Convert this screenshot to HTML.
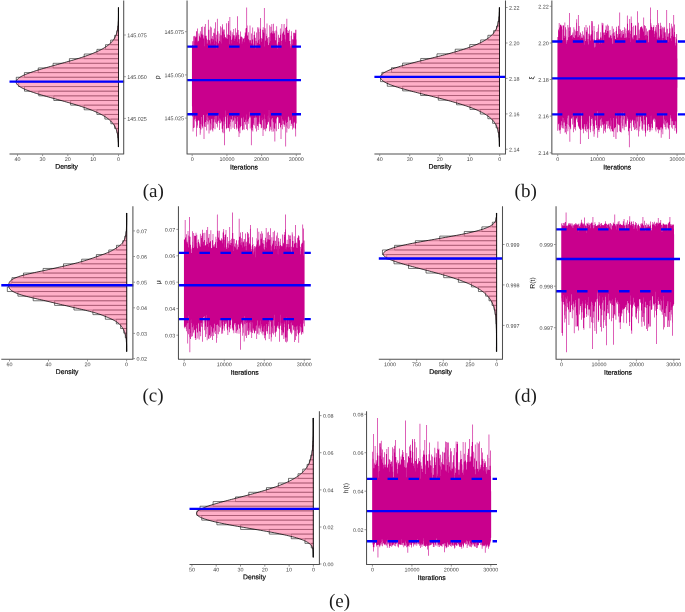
<!DOCTYPE html>
<html><head><meta charset="utf-8"><title>Posterior density and trace plots</title>
<style>html,body{margin:0;padding:0;background:#fff}svg{display:block}</style>
</head><body>
<svg width="685" height="612" viewBox="0 0 685 612" font-family='"Liberation Sans", sans-serif'>
<g>
<path d="M118.5 7.5H118.3V12.15H118.5ZM118.5 12.15H118.35V16.8H118.5ZM118.5 16.8H118.35V21.45H118.5ZM118.5 21.45H118.21V26.1H118.5ZM118.5 26.1H117.7V30.75H118.5ZM118.5 30.75H116.8V35.4H118.5ZM118.5 35.4H114.63V40.05H118.5ZM118.5 40.05H110.65V44.7H118.5ZM118.5 44.7H105.53V49.35H118.5ZM118.5 49.35H96.94V54H118.5ZM118.5 54H84.23V58.65H118.5ZM118.5 58.65H69.4V63.3H118.5ZM118.5 63.3H53.1V67.95H118.5ZM118.5 67.95H38.27V72.6H118.5ZM118.5 72.6H24.42V77.25H118.5ZM118.5 77.25H16.27V81.9H118.5ZM118.5 81.9H18.7V86.55H118.5ZM118.5 86.55H24.51V91.2H118.5ZM118.5 91.2H38.75V95.85H118.5ZM118.5 95.85H53.81V100.5H118.5ZM118.5 100.5H70.65V105.15H118.5ZM118.5 105.15H84.18V109.8H118.5ZM118.5 109.8H96.88V114.45H118.5ZM118.5 114.45H104.87V119.1H118.5ZM118.5 119.1H110.86V123.75H118.5ZM118.5 123.75H114.58V128.4H118.5ZM118.5 128.4H117V133.05H118.5ZM118.5 133.05H117.68V137.7H118.5ZM118.5 137.7H118.13V142.35H118.5ZM118.5 142.35H118.3V147H118.5Z" fill="#fff" stroke="#000" stroke-width="0.55"/>
<path d="M118.5 7.5L118.49 7.5L118.49 8L118.49 8.5L118.49 9L118.49 9.5L118.48 10L118.48 10.5L118.48 11L118.48 11.5L118.47 12L118.47 12.5L118.47 13L118.46 13.5L118.46 14L118.45 14.5L118.45 15L118.44 15.5L118.43 16L118.43 16.5L118.42 17L118.41 17.5L118.4 18L118.39 18.5L118.37 19L118.36 19.5L118.35 20L118.33 20.5L118.31 21L118.29 21.5L118.27 22L118.24 22.5L118.21 23L118.18 23.5L118.15 24L118.12 24.5L118.08 25L118.04 25.5L117.99 26L117.94 26.5L117.88 27L117.82 27.5L117.76 28L117.69 28.5L117.61 29L117.53 29.5L117.44 30L117.34 30.5L117.24 31L117.12 31.5L117 32L116.87 32.5L116.73 33L116.58 33.5L116.41 34L116.24 34.5L116.05 35L115.85 35.5L115.63 36L115.4 36.5L115.16 37L114.9 37.5L114.62 38L114.32 38.5L114 39L113.66 39.5L113.31 40L112.93 40.5L112.52 41L112.1 41.5L111.65 42L111.17 42.5L110.67 43L110.14 43.5L109.58 44L108.99 44.5L108.37 45L107.72 45.5L107.04 46L106.33 46.5L105.58 47L104.8 47.5L103.98 48L103.13 48.5L102.24 49L101.32 49.5L100.36 50L99.36 50.5L98.32 51L97.24 51.5L96.13 52L94.97 52.5L93.78 53L92.55 53.5L91.28 54L89.97 54.5L88.63 55L87.25 55.5L85.83 56L84.38 56.5L82.89 57L81.37 57.5L79.81 58L78.23 58.5L76.62 59L74.97 59.5L73.31 60L71.61 60.5L69.9 61L68.17 61.5L66.41 62L64.64 62.5L62.86 63L61.07 63.5L59.27 64L57.47 64.5L55.66 65L53.86 65.5L52.06 66L50.27 66.5L48.49 67L46.72 67.5L44.97 68L43.24 68.5L41.54 69L39.86 69.5L38.21 70L36.6 70.5L35.03 71L33.5 71.5L32.02 72L30.58 72.5L29.19 73L27.86 73.5L26.59 74L25.38 74.5L24.23 75L23.15 75.5L22.14 76L21.2 76.5L20.33 77L19.54 77.5L18.82 78L18.19 78.5L17.64 79L17.17 79.5L16.78 80L16.48 80.5L16.26 81L16.14 81.5L16.09 82L16.14 82.5L16.26 83L16.48 83.5L16.78 84L17.17 84.5L17.64 85L18.19 85.5L18.82 86L19.54 86.5L20.33 87L21.2 87.5L22.14 88L23.15 88.5L24.23 89L25.38 89.5L26.59 90L27.86 90.5L29.19 91L30.58 91.5L32.02 92L33.5 92.5L35.03 93L36.6 93.5L38.21 94L39.86 94.5L41.54 95L43.24 95.5L44.97 96L46.72 96.5L48.49 97L50.27 97.5L52.06 98L53.86 98.5L55.66 99L57.47 99.5L59.27 100L61.07 100.5L62.86 101L64.64 101.5L66.41 102L68.17 102.5L69.9 103L71.61 103.5L73.31 104L74.97 104.5L76.62 105L78.23 105.5L79.81 106L81.37 106.5L82.89 107L84.38 107.5L85.83 108L87.25 108.5L88.63 109L89.97 109.5L91.28 110L92.55 110.5L93.78 111L94.97 111.5L96.13 112L97.24 112.5L98.32 113L99.36 113.5L100.36 114L101.32 114.5L102.24 115L103.13 115.5L103.98 116L104.8 116.5L105.58 117L106.33 117.5L107.04 118L107.72 118.5L108.37 119L108.99 119.5L109.58 120L110.14 120.5L110.67 121L111.17 121.5L111.65 122L112.1 122.5L112.52 123L112.93 123.5L113.31 124L113.66 124.5L114 125L114.32 125.5L114.62 126L114.9 126.5L115.16 127L115.4 127.5L115.63 128L115.85 128.5L116.05 129L116.24 129.5L116.41 130L116.58 130.5L116.73 131L116.87 131.5L117 132L117.12 132.5L117.24 133L117.34 133.5L117.44 134L117.53 134.5L117.61 135L117.69 135.5L117.76 136L117.82 136.5L117.88 137L117.94 137.5L117.99 138L118.04 138.5L118.08 139L118.12 139.5L118.15 140L118.18 140.5L118.21 141L118.24 141.5L118.27 142L118.29 142.5L118.31 143L118.33 143.5L118.35 144L118.36 144.5L118.37 145L118.39 145.5L118.4 146L118.41 146.5L118.42 147L118.5 147Z" fill="rgb(255,122,163)" fill-opacity="0.6" stroke="#000" stroke-width="0.75" stroke-linejoin="round"/>
<path d="M9.5 81.6H124.1" stroke="#0000ff" stroke-width="2.35" fill="none"/>
<path d="M123.7 0.5V154H9.5" stroke="#505050" stroke-width="1.05" stroke-linejoin="round" fill="none"/>
<path d="M124.2 35h1.6M124.2 76.7h1.6M124.2 118.4h1.6M17.5 154.5v1.6M42.6 154.5v1.6M67.8 154.5v1.6M93.3 154.5v1.6M118.5 154.5v1.6" stroke="#333" stroke-width="0.5" fill="none"/>
<g font-size="5.4" fill="#444">
<text transform="translate(127.3 37.25) rotate(0.05)">145.075</text>
<text transform="translate(127.3 78.95) rotate(0.05)">145.050</text>
<text transform="translate(127.3 120.65) rotate(0.05)">145.025</text>
<text transform="translate(17.5 161) rotate(0.05)" text-anchor="middle">40</text>
<text transform="translate(42.6 161) rotate(0.05)" text-anchor="middle">30</text>
<text transform="translate(67.8 161) rotate(0.05)" text-anchor="middle">20</text>
<text transform="translate(93.3 161) rotate(0.05)" text-anchor="middle">10</text>
<text transform="translate(118.5 161) rotate(0.05)" text-anchor="middle">0</text>
</g>
<text transform="translate(66.6 168.75) rotate(0.05)" text-anchor="middle" font-size="6.8" fill="#000" stroke="#000" stroke-width="0.18">Density</text>
</g>
<g>
<path d="M191.95 80.05V45.49H192.2V41.29H192.82V45.07H193.07V41.07H193.2V36.26H193.82V47.08H193.95V46.23H194.07V41.4H194.2V36.34H194.7V35.67H195.32V37.13H195.45V37.92H195.57V36.75H196.2V31.32H196.57V31.24H197.07V28.5H197.7V42.27H197.82V40.69H198.45V41.34H198.7V33.4H199.32V37.09H199.45V35.71H199.95V31.24H200.57V37.21H200.82V38.36H200.95V35.02H201.07V26.89H201.7V33.8H202.2V35.21H202.45V26.54H203.07V34.82H203.45V36.74H203.57V38.59H204.07V46.25H204.2V26.87H204.82V35.77H204.95V23.9H205.57V35.71H205.95V35.72H206.57V38.6H206.95V43.85H207.2V42.41H207.32V39.67H207.95V19.82H208.57V39.38H208.7V29.68H209.32V40.33H209.95V26.39H210.57V39.47H210.7V44.24H210.82V42.87H210.95V27.39H211.57V38.54H211.95V39.09H212.2V35.99H212.82V41.72H212.95V38.95H213.2V32.77H213.82V40.26H213.95V28.57H214.57V44.32H214.7V33.35H215.07V22.13H215.7V41.09H215.82V37.61H215.95V34.66H216.57V41.72H216.82V48.44H216.95V18.8H217.57V38.65H217.7V31.36H218.32V42.55H218.45V43.75H218.57V43.18H218.82V33.58H219.45V36.46H219.57V41.08H219.82V40.63H219.95V34.81H220.07V26.15H220.7V41.73H220.82V35.29H221.45V43.39H221.57V27.41H222.07V26.43H222.2V24.32H222.82V31.43H223.2V29.53H223.82V38.2H223.95V29.52H224.57V34.62H224.95V37.32H225.07V37.04H225.7V38.21H226.07V23.13H226.7V38.19H227.07V34.62H227.7V39.07H227.95V23.22H228.2V21.1H228.82V34.54H228.95V34.95H229.45V43.9H229.57V17.1H230.2V36.33H230.45V30.81H230.57V30.51H231.2V38.89H231.32V40.05H231.7V43.56H231.82V32.19H232.45V34.18H232.7V37.3H232.82V38.75H232.95V35.34H233.45V29.07H234.07V35.23H234.57V35.53H234.7V41.11H234.82V38.67H235.2V28.19H235.82V36.79H236.07V35.22H236.45V32.38H237.07V16.3H237.7V41.86H237.82V29.88H238.45V38.92H238.57V34.77H239.2V43.45H239.45V39.2H240.07V31.5H240.7V37.21H240.82V36.42H241.45V36.85H241.95V43.79H242.07V37.45H242.7V41.42H242.95V38.69H243.57V38.99H243.7V37.91H244.32V42.17H244.45V36.55H244.57V36.17H244.82V32.6H245.45V34.5H245.57V28.52H245.95V28H246.45V7.5H247.07V25.55H247.45V35.49H248.07V39.17H248.45V32.16H249.07V40.21H249.57V42.48H249.7V25.61H250.32V40.29H250.95V43.44H251.32V33.48H251.95V39.39H252.45V27.46H253.07V46.1H253.32V43.83H253.57V38.45H253.7V35.1H254.2V34.87H254.32V31.56H254.95V37.81H255.57V48.21H255.82V40.96H256.2V32.48H256.82V47.29H256.95V45.58H257.07V42.72H257.45V27.15H258.07V40.17H258.32V29.16H258.57V27.39H259.2V32.08H259.45V38.66H259.57V39.27H259.7V43.91H259.95V28.86H260.32V18H260.95V36.32H261.07V38.28H261.7V41.65H261.95V29.8H262.57V38.84H262.82V27.2H263.45V32.46H263.7V30.09H263.95V8H264.57V46.59H264.7V33.27H264.82V28.18H265.45V29.77H265.57V39.85H265.7V40.97H265.95V40.04H266.07V36.05H266.45V33.84H266.7V23.58H267.32V42.26H267.45V38.13H268.07V45.27H268.2V44.91H268.57V37.07H269.2V42.49H269.32V43.22H269.45V25.13H270.07V33.25H270.45V41.02H270.57V26.66H271.2V32.42H271.57V23.9H272.2V30.82H272.57V33.45H273.2V23.78H273.82V31.33H274.45V33.37H274.95V37.33H275.07V40.17H275.57V30.49H276.2V44.82H276.32V37.65H276.45V26.23H277.07V31.79H277.2V43.62H277.45V44.49H277.57V48.88H277.7V45.95H277.95V35.74H278.07V34.81H278.7V42.03H278.95V37.66H279.2V37.65H279.82V42.14H279.95V28.56H280.57V32.51H280.7V34.78H281.07V41.01H281.45V45.52H281.57V23.9H282.2V33.6H282.7V39.98H282.82V32.61H283.07V31.44H283.57V29.45H283.7V24.59H283.82V24.07H284.45V34.86H284.95V39.58H285.2V27.97H285.82V41.64H285.95V26.8H286.57V18.8H287.2V29.91H287.57V33.1H287.82V33.08H288.45V30.99H288.95V29.73H289.57V41.12H290.2V43.93H290.45V46.48H290.57V48.33H290.7V45.41H290.82V35.74H291.2V31.18H291.82V45.49H292.07V43.89H292.2V39.37H292.82V39.43H293.32V32.64H293.95V32.79H294.57V36.25H294.7V33.3H295.32V29.74H295.95V29.84H296.32V39.47H296.57V123.44H296.07V136.41H295.45V129.29H295.2V128.14H294.7V121.83H294.45V122.73H293.82V128.14H293.2V126.88H293.07V125.53H292.82V129.52H292.2V116.81H292.07V123.63H291.7V123.68H291.32V125.99H290.7V119.43H290.57V120.34H289.95V120.11H289.82V117.76H289.7V120.62H289.57V120.88H289.45V128.04H289.2V128.93H288.57V116.62H288.2V117.21H287.95V121.96H287.57V128.18H287.2V132.53H286.57V126.49H286.32V123.04H286.07V146.5H285.45V122.22H285.32V119.75H285.2V121.15H285.07V124.8H284.45V126.63H283.82V124.2H283.32V120.74H282.82V119.37H282.7V124.25H282.57V129.31H281.95V124.88H281.45V116.41H281.32V139.07H280.7V128.35H280.57V127.27H280.07V122.84H279.82V123.06H279.2V124.2H278.95V129.04H278.32V117.76H278.07V116.66H277.82V117.35H277.2V116.59H277.07V118.52H276.57V131.27H275.95V130.26H275.82V128.69H275.7V123.46H275.32V122.54H275.2V141.5H274.57V128.56H274.32V128.82H274.07V131.58H273.45V127.83H273.32V122.33H272.95V118.19H272.7V118.11H272.57V121.3H272.45V128.97H272.32V131.84H271.7V119.97H271.57V118.77H271.32V130.33H270.7V126.69H270.2V128.71H269.95V131.25H269.32V124.5H269.2V117.8H269.07V109.88H268.95V121.6H268.7V122.33H268.07V115.41H267.95V121.97H267.82V124.07H267.45V124.9H266.95V127.84H266.82V127.93H266.7V128.58H266.07V131.25H265.45V119.01H265.32V122.48H265.2V129.01H264.57V118.53H264.45V114.44H264.32V129.92H263.7V128.19H263.45V118.89H263.32V136H262.7V127.62H262.57V120.19H262.07V117.39H261.95V125.07H261.82V127.78H261.45V128.33H260.82V124.18H260.57V124.31H259.95V122.05H259.82V115.21H259.57V117.74H259.45V123.77H258.82V121.87H258.7V127.26H258.45V129.94H257.82V124.6H257.7V126H257.07V124.15H256.95V131.44H256.32V117.47H255.7V113.84H255.57V128.44H254.95V125.51H254.45V117.8H253.95V124.68H253.32V123.05H253.2V131.39H252.57V127.67H252.32V130.19H251.7V127.14H251.57V145.3H250.95V117.44H250.57V116.26H250.45V128.53H249.82V111.67H249.7V116.52H249.45V117.73H249.07V123.69H248.45V119.3H248.07V120.98H247.82V130.3H247.2V122.04H246.82V128.92H246.2V114.47H246.07V119.52H245.95V124.45H245.32V119.83H245.07V121.92H244.45V129.86H243.82V125.75H243.7V117.81H243.57V116.81H243.45V129.21H242.82V130.21H242.2V129.89H242.07V118.5H241.82V117.64H241.45V126.05H240.82V127.18H240.32V133.34H239.7V124.82H239.57V128.37H239.32V137H238.7V131.53H238.32V130.82H238.07V128.43H237.57V121.93H237.45V117.02H237.2V120.78H236.95V127.55H236.57V129.42H235.95V118.04H235.82V118.74H235.7V123.96H235.07V115.19H234.95V117.54H234.7V129.08H234.07V119.7H233.95V120.54H233.45V121.31H233.32V127.85H232.7V121.8H232.32V116.11H232.07V119.29H231.82V119.62H231.32V129.16H230.7V126.45H230.45V121.9H230.2V118.94H230.07V117.17H229.95V131.59H229.32V124.34H229.07V128.3H228.45V127.69H227.82V117.86H227.7V115.37H227.45V127.99H226.82V128H226.57V129.22H225.95V116.75H225.82V116.63H225.45V110.6H225.32V119.55H225.2V124.06H224.95V145.3H224.32V132.71H224.2V121.46H223.82V117.59H223.7V125.5H223.57V125.9H223.45V133.16H222.82V132.22H222.32V128.66H221.7V121.37H221.57V121.38H221.2V122.4H220.95V123.21H220.32V119.85H220.07V118.57H219.82V129.89H219.2V122.92H218.82V120.68H218.2V114H218.07V121.79H217.7V125.64H217.57V127.6H216.95V122.67H216.82V123.98H216.2V116.02H215.82V122.39H215.32V129.29H214.7V120.4H214.57V116.57H214.45V119.32H214.2V122.16H213.82V128.29H213.2V131.38H212.57V130.17H212.2V118.65H211.7V118.96H211.57V124.86H211.45V129.54H210.82V123.39H210.57V130.45H209.95V119.84H209.7V120.33H209.57V120.83H209.45V130.18H209.32V133.59H208.7V123.59H208.57V121.79H208.45V117.72H208.32V121.85H208.2V124.52H207.57V120.92H207.32V117.18H207.2V114.05H207.07V130.38H206.45V120.36H206.2V114.85H206.07V121.99H205.57V126.99H204.95V126.85H204.82V126.44H204.45V123.39H204.32V139H203.7V114.64H203.57V115.12H203.2V123.59H203.07V128.16H202.45V126.46H201.82V124.58H201.57V116.96H201.32V129.45H200.7V124.04H200.57V133.01H200.45V134.63H199.82V128.1H199.2V120.68H198.82V119.9H198.45V120.8H197.82V125.57H197.45V127.72H196.82V136.5H196.2V122.17H196.07V121.27H195.57V118.76H195.2V116.6H194.95V119.62H194.57V127.38H194.07V128.12H193.45V113.38H193.32V131.46H192.7V116.51H192.2V114.91H192.07V106.51H191.95Z" fill="#c9008d"/>
<path d="M187.05 80.05H301" stroke="#0000ff" stroke-width="2.35" fill="none"/>
<path d="M187.05 46.6H301" stroke="#0000ff" stroke-width="2.35" stroke-dasharray="10.5 10.5" fill="none"/>
<path d="M187.05 114.2H301" stroke="#0000ff" stroke-width="2.35" stroke-dasharray="10.5 10.5" fill="none"/>
<path d="M187.05 0.5V154H301" stroke="#505050" stroke-width="1.05" stroke-linejoin="round" fill="none"/>
<path d="M186.55 31.7h-1.6M186.55 74.9h-1.6M186.55 118.1h-1.6M192.2 154.5v1.6M226.9 154.5v1.6M261.6 154.5v1.6M296.3 154.5v1.6" stroke="#333" stroke-width="0.5" fill="none"/>
<g font-size="5.4" fill="#444">
<text transform="translate(183.95 33.95) rotate(0.05)" text-anchor="end">145.075</text>
<text transform="translate(183.95 77.15) rotate(0.05)" text-anchor="end">145.050</text>
<text transform="translate(183.95 120.35) rotate(0.05)" text-anchor="end">145.025</text>
<text transform="translate(192.2 161) rotate(0.05)" text-anchor="middle">0</text>
<text transform="translate(226.9 161) rotate(0.05)" text-anchor="middle">10000</text>
<text transform="translate(261.6 161) rotate(0.05)" text-anchor="middle">20000</text>
<text transform="translate(296.3 161) rotate(0.05)" text-anchor="middle">30000</text>
</g>
<text transform="translate(244.03 169.5) rotate(0.05)" text-anchor="middle" font-size="6.8" fill="#000" stroke="#000" stroke-width="0.18">Iterations</text>
<text transform="translate(159.6 77.4) rotate(-89.95)" text-anchor="middle" font-size="6.8" fill="#000">ρ</text>
</g>
<g>
<path d="M499.5 7.5H499.26V12.13H499.5ZM499.5 12.13H499.16V16.77H499.5ZM499.5 16.77H498.73V21.4H499.5ZM499.5 21.4H497.87V26.03H499.5ZM499.5 26.03H496.52V30.67H499.5ZM499.5 30.67H493.59V35.3H499.5ZM499.5 35.3H487.89V39.93H499.5ZM499.5 39.93H480.65V44.57H499.5ZM499.5 44.57H469.73V49.2H499.5ZM499.5 49.2H455.23V53.83H499.5ZM499.5 53.83H436.99V58.47H499.5ZM499.5 58.47H420.69V63.1H499.5ZM499.5 63.1H402.61V67.73H499.5ZM499.5 67.73H391.48V72.37H499.5ZM499.5 72.37H381.87V77H499.5ZM499.5 77H380.55V81.63H499.5ZM499.5 81.63H387.31V86.27H499.5ZM499.5 86.27H402.65V90.9H499.5ZM499.5 90.9H420.62V95.53H499.5ZM499.5 95.53H438.29V100.17H499.5ZM499.5 100.17H456.57V104.8H499.5ZM499.5 104.8H469.95V109.43H499.5ZM499.5 109.43H480.34V114.07H499.5ZM499.5 114.07H487.85V118.7H499.5ZM499.5 118.7H492.63V123.33H499.5ZM499.5 123.33H496.13V127.97H499.5ZM499.5 127.97H498V132.6H499.5ZM499.5 132.6H498.72V137.23H499.5ZM499.5 137.23H499.2V141.87H499.5ZM499.5 141.87H499.26V146.5H499.5Z" fill="#fff" stroke="#000" stroke-width="0.55"/>
<path d="M499.5 7.5L499.43 7.5L499.43 8L499.42 8.5L499.41 8.99L499.4 9.49L499.39 9.99L499.38 10.49L499.36 10.99L499.35 11.49L499.33 11.98L499.31 12.48L499.29 12.98L499.27 13.48L499.25 13.98L499.23 14.47L499.2 14.97L499.17 15.47L499.13 15.97L499.1 16.47L499.06 16.97L499.02 17.46L498.97 17.96L498.92 18.46L498.87 18.96L498.81 19.46L498.74 19.96L498.67 20.45L498.6 20.95L498.52 21.45L498.43 21.95L498.33 22.45L498.23 22.94L498.12 23.44L498 23.94L497.88 24.44L497.74 24.94L497.59 25.44L497.44 25.93L497.27 26.43L497.09 26.93L496.9 27.43L496.69 27.93L496.47 28.42L496.24 28.92L495.98 29.42L495.72 29.92L495.43 30.42L495.13 30.92L494.81 31.41L494.47 31.91L494.11 32.41L493.73 32.91L493.33 33.41L492.9 33.91L492.45 34.4L491.97 34.9L491.47 35.4L490.94 35.9L490.38 36.4L489.79 36.89L489.18 37.39L488.53 37.89L487.85 38.39L487.14 38.89L486.39 39.39L485.61 39.88L484.8 40.38L483.95 40.88L483.06 41.38L482.14 41.88L481.17 42.37L480.17 42.87L479.13 43.37L478.05 43.87L476.93 44.37L475.78 44.87L474.58 45.36L473.33 45.86L472.05 46.36L470.73 46.86L469.37 47.36L467.97 47.85L466.52 48.35L465.04 48.85L463.52 49.35L461.96 49.85L460.36 50.35L458.73 50.84L457.06 51.34L455.35 51.84L453.62 52.34L451.85 52.84L450.05 53.34L448.22 53.83L446.36 54.33L444.48 54.83L442.58 55.33L440.65 55.83L438.71 56.32L436.75 56.82L434.78 57.32L432.79 57.82L430.8 58.32L428.81 58.82L426.81 59.31L424.81 59.81L422.81 60.31L420.83 60.81L418.85 61.31L416.88 61.8L414.94 62.3L413.01 62.8L411.11 63.3L409.23 63.8L407.39 64.3L405.58 64.79L403.81 65.29L402.08 65.79L400.39 66.29L398.75 66.79L397.16 67.28L395.63 67.78L394.16 68.28L392.74 68.78L391.39 69.28L390.11 69.78L388.9 70.27L387.76 70.77L386.69 71.27L385.7 71.77L384.79 72.27L383.96 72.77L383.21 73.26L382.55 73.76L381.98 74.26L381.49 74.76L381.09 75.26L380.78 75.75L380.56 76.25L380.44 76.75L380.4 77.25L380.46 77.75L380.6 78.25L380.84 78.74L381.16 79.24L381.58 79.74L382.08 80.24L382.68 80.74L383.35 81.23L384.12 81.73L384.96 82.23L385.89 82.73L386.89 83.23L387.98 83.73L389.13 84.22L390.36 84.72L391.66 85.22L393.02 85.72L394.44 86.22L395.93 86.72L397.47 87.21L399.07 87.71L400.72 88.21L402.41 88.71L404.15 89.21L405.93 89.7L407.75 90.2L409.6 90.7L411.48 91.2L413.39 91.7L415.32 92.2L417.27 92.69L419.24 93.19L421.22 93.69L423.21 94.19L425.2 94.69L427.2 95.18L429.2 95.68L431.2 96.18L433.19 96.68L435.17 97.18L437.14 97.68L439.09 98.17L441.03 98.67L442.95 99.17L444.85 99.67L446.73 100.17L448.58 100.66L450.4 101.16L452.2 101.66L453.96 102.16L455.69 102.66L457.39 103.16L459.05 103.65L460.68 104.15L462.27 104.65L463.82 105.15L465.34 105.65L466.81 106.15L468.25 106.64L469.64 107.14L471 107.64L472.31 108.14L473.58 108.64L474.82 109.13L476.01 109.63L477.16 110.13L478.27 110.63L479.34 111.13L480.37 111.63L481.37 112.12L482.32 112.62L483.24 113.12L484.12 113.62L484.96 114.12L485.77 114.61L486.54 115.11L487.28 115.61L487.99 116.11L488.66 116.61L489.3 117.11L489.91 117.6L490.49 118.1L491.04 118.6L491.57 119.1L492.07 119.6L492.54 120.09L492.98 120.59L493.41 121.09L493.81 121.59L494.19 122.09L494.54 122.59L494.88 123.08L495.19 123.58L495.49 124.08L495.77 124.58L496.04 125.08L496.28 125.58L496.51 126.07L496.73 126.57L496.93 127.07L497.13 127.57L497.3 128.07L497.47 128.56L497.62 129.06L497.77 129.56L497.9 130.06L498.03 130.56L498.14 131.06L498.25 131.55L498.35 132.05L498.45 132.55L498.53 133.05L498.61 133.55L498.69 134.04L498.76 134.54L498.82 135.04L498.88 135.54L498.93 136.04L498.98 136.54L499.03 137.03L499.07 137.53L499.11 138.03L499.14 138.53L499.17 139.03L499.2 139.53L499.23 140.02L499.26 140.52L499.28 141.02L499.3 141.52L499.32 142.02L499.34 142.51L499.35 143.01L499.37 143.51L499.38 144.01L499.39 144.51L499.4 145.01L499.41 145.5L499.42 146L499.43 146.5L499.5 146.5Z" fill="rgb(255,122,163)" fill-opacity="0.6" stroke="#000" stroke-width="0.75" stroke-linejoin="round"/>
<path d="M374.4 76.9H505.9" stroke="#0000ff" stroke-width="2.35" fill="none"/>
<path d="M505.5 0.5V154H374.4" stroke="#505050" stroke-width="1.05" stroke-linejoin="round" fill="none"/>
<path d="M506 7.5h1.6M506 43h1.6M506 78.4h1.6M506 113.9h1.6M506 149.2h1.6M379.7 154.5v1.6M409.7 154.5v1.6M439.7 154.5v1.6M469.7 154.5v1.6M499.7 154.5v1.6" stroke="#333" stroke-width="0.5" fill="none"/>
<g font-size="5.4" fill="#444">
<text transform="translate(509.1 9.75) rotate(0.05)">2.22</text>
<text transform="translate(509.1 45.25) rotate(0.05)">2.20</text>
<text transform="translate(509.1 80.65) rotate(0.05)">2.18</text>
<text transform="translate(509.1 116.15) rotate(0.05)">2.16</text>
<text transform="translate(509.1 151.45) rotate(0.05)">2.14</text>
<text transform="translate(379.7 161) rotate(0.05)" text-anchor="middle">40</text>
<text transform="translate(409.7 161) rotate(0.05)" text-anchor="middle">30</text>
<text transform="translate(439.7 161) rotate(0.05)" text-anchor="middle">20</text>
<text transform="translate(469.7 161) rotate(0.05)" text-anchor="middle">10</text>
<text transform="translate(499.7 161) rotate(0.05)" text-anchor="middle">0</text>
</g>
<text transform="translate(439.95 168.75) rotate(0.05)" text-anchor="middle" font-size="6.8" fill="#000" stroke="#000" stroke-width="0.18">Density</text>
</g>
<g>
<path d="M557.45 78.4V37.31H557.58V37.01H558.08V29.42H558.7V30.75H558.83V23.12H559.45V27.62H559.83V31.45H559.95V24.69H560.58V24.74H561.2V26.58H561.58V25.44H562.2V40.3H562.58V29.49H562.83V25.28H563.45V25.41H563.95V38.11H564.2V35.86H564.58V22.38H565.2V36.83H565.33V27.25H565.95V29.51H566.33V36.22H566.45V41.46H566.58V43.74H566.83V40.11H567.45V41.4H567.58V25.01H568.2V27.61H568.7V37.31H569.08V30.93H569.2V13H569.83V27.29H570.08V27.15H570.7V35.91H571.08V34.96H571.7V35.21H572.2V38.71H572.33V34.35H572.58V32.38H573.2V37.24H573.58V27.33H574.2V37.96H574.58V29.4H575.2V35.37H575.58V31.24H576.2V22.68H576.45V19.28H577.08V36.7H577.2V31.05H577.83V37.42H577.95V15H578.58V36.96H578.83V26.1H579.45V35.18H579.95V37.96H580.08V39.04H580.2V32.84H580.33V32.61H580.95V34H581.33V36.42H581.7V38.03H582.2V38.23H582.33V36.98H582.45V31.26H583.08V35.78H583.2V40.8H583.33V34.72H583.95V36.26H584.08V36.43H584.2V44.75H584.33V27.14H584.95V38.63H585.2V40.89H585.58V30.34H585.7V24.89H586.33V30.37H586.7V32.09H587.08V41.42H587.2V27.57H587.83V38.92H588.2V44.4H588.45V33.78H589.08V34.07H589.2V25.46H589.83V35.49H590.45V40.5H590.7V34.23H591.33V20.91H591.95V23.22H592.08V21.26H592.7V30.53H592.95V39.4H593.45V41.11H593.58V40.57H593.7V26.01H594.33V31.04H594.58V39.03H594.7V47.58H594.95V46.75H595.2V42.07H595.58V40.31H595.95V39.79H596.33V31.98H596.95V38.33H597.2V42.16H597.33V31.48H597.83V28.62H597.95V27.39H598.08V24.54H598.7V39.31H599.33V39.32H599.83V44.06H599.95V37.51H600.45V32.36H601.08V36.43H601.33V38.22H601.58V43.82H601.7V22.81H602.33V25.21H602.7V23.26H603.33V32.8H603.7V39.89H603.83V32.32H604.45V32.78H604.7V34.89H605.08V29.85H605.7V25.53H606.33V26.55H606.58V32.98H606.95V24.61H607.58V31.03H607.95V31.29H608.2V25.7H608.83V37.46H609.08V37.48H609.58V31.08H609.7V30.05H610.33V35.87H610.45V35.3H611.08V35.82H611.33V38.33H611.7V33.88H611.83V26.19H612.45V33.6H612.7V43.85H613.08V32.63H613.33V28.71H613.95V35.67H614.45V32.19H615.08V39H615.7V31.12H616.2V26.83H616.83V29.19H616.95V34.05H617.58V37.54H618.08V35.59H618.2V26.37H618.33V25.64H618.95V28.94H619.2V34.05H619.45V12.6H620.08V33.15H620.2V29.53H620.83V37.57H621.33V30.98H621.95V33.61H622.08V35.47H622.33V30.18H622.95V34.1H623.45V31.9H623.7V29.91H624.08V27.22H624.7V37.99H624.95V37.67H625.33V33.81H625.45V32.88H625.58V28.49H626.2V30.69H626.45V38.3H626.7V37.01H626.95V15.6H627.58V23.76H627.95V32.92H628.08V31.06H628.33V29.9H628.95V37.91H629.08V32.22H629.2V29.46H629.45V18.96H630.08V42.37H630.2V34.02H630.45V30.84H630.83V16.5H631.45V23.04H632.08V27.11H632.45V37.49H632.83V39.24H633.2V35.48H633.45V25.74H634.08V35.74H634.33V35.11H634.95V25.65H635.33V25.3H635.95V25.86H636.08V34.68H636.2V40.65H636.33V35.26H636.95V25.69H637.08V11.3H637.7V40.83H638.08V29.68H638.2V22.78H638.83V38.16H639.33V33.98H639.45V31.2H639.58V29.77H639.7V29.52H640.08V27.02H640.7V27.74H640.95V26.52H641.58V26.39H642.2V27.73H642.7V29.15H643.08V31.49H643.45V17.6H644.08V25.46H644.2V25.33H644.83V36.25H644.95V35.36H645.2V35.06H645.33V26.11H645.95V39.57H646.08V34.75H646.33V28.39H646.95V31.85H647.2V35.73H647.45V31.13H648.08V42.23H648.45V39.82H648.58V30.23H649.2V30.8H649.33V29.77H649.95V29.89H650.2V19.24H650.33V7.5H650.95V22.93H651.2V24.68H651.45V26.8H651.95V27.22H652.08V30.22H652.45V27.42H652.95V27H653.58V25.23H654.2V30.96H654.33V33.82H654.58V37.09H654.7V31.31H655.2V29.49H655.45V27.07H655.95V25.06H656.58V30.51H656.7V32.61H656.95V39H657.2V10H657.83V37.62H658.08V25H658.33V23.28H658.95V37.17H659.2V37.78H659.45V35.82H659.7V29H659.95V22.77H660.58V28.96H660.83V25.65H661.45V34.38H661.58V30.15H661.7V28.5H662.08V27.24H662.7V41.87H662.83V38.04H663.2V31.73H663.33V28.3H663.7V26.65H664.33V26.9H664.58V28.36H664.83V32.82H664.95V32.23H665.58V33.61H665.7V36.14H665.83V38.89H665.95V39.88H666.33V29.38H666.45V10H667.08V28.67H667.7V36.77H668.2V33.44H668.83V42.23H668.95V32.99H669.2V23.11H669.83V28.33H669.95V28.38H670.33V31.79H670.45V38.22H670.95V23.8H671.58V41.17H671.7V35.93H671.95V26.47H672.58V28.2H672.95V34.49H673.08V35.22H673.2V36.84H673.45V15H674.08V31.91H674.33V24.41H674.95V37.1H675.45V45.51H675.7V42.81H676.08V38.71H676.33V33.98H676.95V34.19H677.08V43.33H677.33V58.42H677.45V87.82H677.33V111.78H677.08V132.48H676.7V133.85H676.08V121.42H675.83V120.88H675.7V127.97H675.58V128.16H675.2V130.68H674.58V124.99H674.08V121.14H673.95V124.88H673.33V125.43H673.08V128.71H672.45V121.37H671.83V127.5H671.2V118.52H670.7V117.25H670.58V115.13H670.33V124.93H669.7V124.7H669.58V139H668.95V129.64H668.7V128.48H668.08V123.15H667.7V122.09H667.45V127.52H666.83V123.13H666.7V120.08H666.58V123.23H666.33V129.42H665.7V129.26H665.58V121.02H665.45V121.58H665.33V126.94H664.7V119.42H664.45V124.82H663.83V113.6H663.58V123.53H663.2V134.18H662.58V129.2H662.2V127.88H661.95V127.37H661.58V132.33H661.45V137.64H660.83V129.71H660.58V127.61H660.08V130.15H659.45V129.38H658.83V129.03H658.58V133.26H657.95V129.42H657.83V129.44H657.2V127.3H656.83V127.31H656.33V131.46H655.7V129.71H655.33V119.58H655.08V121.86H654.45V118.58H654.2V118.7H653.58V120.35H652.95V128.01H652.33V130.19H651.7V126.9H651.45V123.68H651.08V115.52H650.95V128.23H650.7V130.45H650.2V131.97H649.58V129.94H649.33V126.87H648.83V124.03H648.2V130.03H647.83V130.67H647.2V125.69H647.08V124.65H646.83V117.15H646.2V116.38H646.08V132.77H645.7V136.5H645.08V130.81H644.7V119.64H644.45V124.45H644.2V124.58H643.58V115.41H643.2V130.68H642.58V123.06H642.45V128.48H642.2V129.55H641.58V121.24H641.08V117.72H640.95V117.07H640.7V116.51H640.45V119.77H640.33V123.13H640.2V126.48H639.58V116.7H639.45V128.79H639.33V131.25H638.95V136.5H638.33V115.12H638.2V116.89H637.83V121.54H637.45V129.82H637.2V130.2H636.58V128.1H636.2V117.35H635.95V123.62H635.7V129.37H635.08V120.4H634.7V129.96H634.08V129.15H633.95V125.21H633.7V127.33H633.08V119.74H632.45V119.73H632.33V121.16H631.7V131.08H631.08V122.94H630.45V119.83H630.2V128.25H629.58V147.3H628.95V135.32H628.7V131.16H628.08V119.07H627.7V117.48H627.45V120.83H626.83V115.79H626.7V126.75H626.08V123.36H625.83V124.4H625.45V127.01H624.83V115.96H624.45V130.2H623.83V125.95H623.7V112.61H623.45V119.56H623.2V128.45H622.58V128.07H622.45V125.81H622.2V115.89H621.95V114.99H621.83V112.45H621.7V117.6H621.58V122.99H621.45V132.55H620.83V131.93H620.2V118.36H620.08V131.28H619.45V125.27H618.83V116.17H618.7V124.73H618.08V123.63H617.58V132.15H616.95V125.36H616.83V118.87H616.58V112.9H616.45V117.88H616.33V139H615.7V138.49H615.58V127.09H615.2V128.09H614.83V128.35H614.45V129.44H614.2V136.89H613.58V118H613.33V131.65H612.7V131.15H612.33V131H611.95V129.15H611.58V120.42H611.45V129.03H611.2V131.55H610.58V126.26H610.2V117.66H610.08V124.58H609.83V129.37H609.2V128.03H608.7V125.91H608.33V120.86H608.08V121.37H607.58V128.49H606.95V124.49H606.33V121.02H606.2V121.19H605.95V132.6H605.33V128.79H605.2V129.11H604.95V130.87H604.33V123.63H603.95V133.61H603.33V125.15H602.7V124.6H602.2V121.69H601.95V127.77H601.33V118.13H601.08V125.76H600.45V119.56H599.95V127.86H599.58V129.65H599.33V131.97H598.7V129.95H598.2V125.79H598.08V137.7H597.45V130.32H597.33V111.34H597.08V128.05H596.45V125.32H595.83V120.59H595.33V120.37H595.2V116.31H594.95V129.18H594.58V134.23H594.33V136.65H593.7V126.24H593.33V131.28H592.7V123.65H592.45V120.25H592.33V118.25H592.08V119.09H591.45V116.85H591.33V125.74H590.83V132.13H590.2V130.07H589.83V128.8H589.7V116.28H589.33V115.57H589.2V122.94H589.08V128.38H588.7V139H588.08V129.24H587.58V128.88H587.33V121.4H587.2V132.36H586.58V124.35H586.33V126.53H586.08V129.26H585.7V130.99H585.08V124.33H584.58V126.86H584.33V129.5H583.95V133.26H583.33V128.71H582.95V129.37H582.33V127.64H581.95V115.96H581.7V112.82H581.58V112.63H581.45V118.76H581.33V129.91H580.7V128.73H580.58V144H579.95V129.02H579.33V127.86H578.83V124.63H578.7V126.52H578.08V126.1H577.95V116.72H577.83V122.18H577.2V116.21H577.08V118.56H576.45V117.63H576.33V119.46H576.2V120.35H575.95V130.44H575.33V127.01H574.7V128.79H574.08V122.74H573.95V132.32H573.33V116.1H573.2V117.21H572.83V118.6H572.7V124.62H572.08V114.97H571.95V118.6H571.33V118.84H571.08V129.19H570.45V127.42H570.2V141.79H569.58V126.71H569.2V125.67H569.08V115.45H568.58V125.03H568.33V129.11H568.2V131.31H567.58V115.63H567.45V118.16H567.2V123.98H566.83V128.16H566.7V129.1H566.58V134.26H565.95V125.98H565.7V132.12H565.33V132.7H564.7V128.96H564.58V120.29H564.45V122.48H563.83V118.04H563.7V122.55H563.58V128.62H562.95V117.54H562.83V125.57H562.58V128.16H561.95V127.47H561.58V121.36H561.2V125.17H560.83V129.63H560.45V133.69H559.83V123.15H559.7V130.24H559.45V130.57H558.83V123.5H558.7V124.2H558.2V129.06H558.08V130.77H557.45Z" fill="#c9008d"/>
<path d="M551.85 78.4H685" stroke="#0000ff" stroke-width="2.35" fill="none"/>
<path d="M551.85 41.5H685" stroke="#0000ff" stroke-width="2.35" stroke-dasharray="10.5 10.5" fill="none"/>
<path d="M551.85 114.4H685" stroke="#0000ff" stroke-width="2.35" stroke-dasharray="10.5 10.5" fill="none"/>
<path d="M551.85 0.5V154H685" stroke="#505050" stroke-width="1.05" stroke-linejoin="round" fill="none"/>
<path d="M551.35 6.3h-1.6M551.35 43h-1.6M551.35 79.5h-1.6M551.35 116.1h-1.6M551.35 152.8h-1.6M557.7 154.5v1.6M597.5 154.5v1.6M637.3 154.5v1.6M677.1 154.5v1.6" stroke="#333" stroke-width="0.5" fill="none"/>
<g font-size="5.4" fill="#444">
<text transform="translate(548.75 8.55) rotate(0.05)" text-anchor="end">2.22</text>
<text transform="translate(548.75 45.25) rotate(0.05)" text-anchor="end">2.20</text>
<text transform="translate(548.75 81.75) rotate(0.05)" text-anchor="end">2.18</text>
<text transform="translate(548.75 118.35) rotate(0.05)" text-anchor="end">2.16</text>
<text transform="translate(548.75 155.05) rotate(0.05)" text-anchor="end">2.14</text>
<text transform="translate(557.7 161) rotate(0.05)" text-anchor="middle">0</text>
<text transform="translate(597.5 161) rotate(0.05)" text-anchor="middle">10000</text>
<text transform="translate(637.3 161) rotate(0.05)" text-anchor="middle">20000</text>
<text transform="translate(677.1 161) rotate(0.05)" text-anchor="middle">30000</text>
</g>
<text transform="translate(617.3 169.5) rotate(0.05)" text-anchor="middle" font-size="6.8" fill="#000" stroke="#000" stroke-width="0.18">Iterations</text>
<text transform="translate(534.1 78) rotate(-89.95)" text-anchor="middle" font-size="6.8" fill="#000">ξ</text>
</g>
<g>
<path d="M126.7 213H126.47V217.62H126.7ZM126.7 217.62H126.55V222.24H126.7ZM126.7 222.24H126.55V226.86H126.7ZM126.7 226.86H126.48V231.48H126.7ZM126.7 231.48H125.95V236.1H126.7ZM126.7 236.1H124.78V240.72H126.7ZM126.7 240.72H122.74V245.34H126.7ZM126.7 245.34H116.48V249.96H126.7ZM126.7 249.96H108.77V254.58H126.7ZM126.7 254.58H96.4V259.2H126.7ZM126.7 259.2H81.67V263.82H126.7ZM126.7 263.82H63.51V268.44H126.7ZM126.7 268.44H43.12V273.06H126.7ZM126.7 273.06H23.46V277.68H126.7ZM126.7 277.68H11.95V282.3H126.7ZM126.7 282.3H10.97V286.92H126.7ZM126.7 286.92H7.33V291.54H126.7ZM126.7 291.54H17.92V296.16H126.7ZM126.7 296.16H33.19V300.78H126.7ZM126.7 300.78H54.58V305.4H126.7ZM126.7 305.4H73.94V310.02H126.7ZM126.7 310.02H92.91V314.64H126.7ZM126.7 314.64H105.33V319.26H126.7ZM126.7 319.26H116.35V323.88H126.7ZM126.7 323.88H120.57V328.5H126.7ZM126.7 328.5H123.75V333.12H126.7ZM126.7 333.12H125.3V337.74H126.7ZM126.7 337.74H126.41V342.36H126.7ZM126.7 342.36H126.55V346.98H126.7ZM126.7 346.98H126.47V351.6H126.7Z" fill="#fff" stroke="#000" stroke-width="0.55"/>
<path d="M126.7 213L126.7 213L126.7 213.5L126.7 213.99L126.7 214.49L126.69 214.99L126.69 215.48L126.69 215.98L126.69 216.48L126.68 216.97L126.68 217.47L126.67 217.97L126.67 218.46L126.66 218.96L126.66 219.46L126.65 219.95L126.64 220.45L126.63 220.95L126.63 221.45L126.62 221.94L126.61 222.44L126.6 222.94L126.59 223.43L126.58 223.93L126.57 224.43L126.55 224.92L126.54 225.42L126.53 225.92L126.52 226.41L126.5 226.91L126.49 227.41L126.47 227.9L126.46 228.4L126.44 228.9L126.41 229.39L126.39 229.89L126.36 230.39L126.32 230.88L126.28 231.38L126.23 231.88L126.17 232.37L126.11 232.87L126.03 233.37L125.95 233.86L125.86 234.36L125.77 234.86L125.67 235.35L125.56 235.85L125.44 236.35L125.32 236.85L125.18 237.34L125.04 237.84L124.88 238.34L124.71 238.83L124.52 239.33L124.31 239.83L124.08 240.32L123.82 240.82L123.55 241.32L123.25 241.81L122.93 242.31L122.57 242.81L122.18 243.3L121.74 243.8L121.26 244.3L120.72 244.79L120.13 245.29L119.5 245.79L118.82 246.28L118.12 246.78L117.38 247.28L116.63 247.77L115.87 248.27L115.09 248.77L114.28 249.26L113.45 249.76L112.58 250.26L111.66 250.75L110.68 251.25L109.64 251.75L108.53 252.25L107.36 252.74L106.13 253.24L104.85 253.74L103.53 254.23L102.18 254.73L100.81 255.23L99.42 255.72L98.02 256.22L96.62 256.72L95.2 257.21L93.77 257.71L92.33 258.21L90.86 258.7L89.36 259.2L87.83 259.7L86.26 260.19L84.65 260.69L82.99 261.19L81.27 261.68L79.5 262.18L77.68 262.68L75.8 263.17L73.87 263.67L71.89 264.17L69.88 264.66L67.83 265.16L65.75 265.66L63.64 266.15L61.5 266.65L59.34 267.15L57.15 267.65L54.94 268.14L52.71 268.64L50.47 269.14L48.21 269.63L45.92 270.13L43.62 270.63L41.31 271.12L38.98 271.62L36.66 272.12L34.35 272.61L32.08 273.11L29.87 273.61L27.74 274.1L25.71 274.6L23.79 275.1L21.99 275.59L20.31 276.09L18.75 276.59L17.32 277.08L16.02 277.58L14.85 278.08L13.81 278.57L12.89 279.07L12.09 279.57L11.39 280.06L10.79 280.56L10.28 281.06L9.86 281.55L9.52 282.05L9.25 282.55L9.05 283.05L8.9 283.54L8.79 284.04L8.72 284.54L8.68 285.03L8.68 285.53L8.71 286.03L8.78 286.52L8.89 287.02L9.05 287.52L9.27 288.01L9.54 288.51L9.89 289.01L10.32 289.5L10.84 290L11.45 290.5L12.17 290.99L12.98 291.49L13.89 291.99L14.89 292.48L16 292.98L17.2 293.48L18.51 293.97L19.93 294.47L21.47 294.97L23.13 295.46L24.9 295.96L26.79 296.46L28.77 296.95L30.84 297.45L32.97 297.95L35.13 298.45L37.3 298.94L39.47 299.44L41.62 299.94L43.76 300.43L45.87 300.93L47.96 301.43L50.04 301.92L52.12 302.42L54.2 302.92L56.29 303.41L58.38 303.91L60.48 304.41L62.58 304.9L64.69 305.4L66.81 305.9L68.92 306.39L71.04 306.89L73.15 307.39L75.26 307.88L77.37 308.38L79.47 308.88L81.56 309.37L83.64 309.87L85.7 310.37L87.73 310.86L89.7 311.36L91.6 311.86L93.43 312.35L95.17 312.85L96.81 313.35L98.37 313.85L99.85 314.34L101.26 314.84L102.6 315.34L103.89 315.83L105.13 316.33L106.34 316.83L107.5 317.32L108.64 317.82L109.76 318.32L110.85 318.81L111.91 319.31L112.94 319.81L113.92 320.3L114.85 320.8L115.72 321.3L116.52 321.79L117.25 322.29L117.92 322.79L118.53 323.28L119.08 323.78L119.59 324.28L120.07 324.77L120.52 325.27L120.94 325.77L121.34 326.26L121.71 326.76L122.07 327.26L122.4 327.75L122.72 328.25L123.01 328.75L123.28 329.25L123.54 329.74L123.78 330.24L124 330.74L124.2 331.23L124.39 331.73L124.57 332.23L124.74 332.72L124.91 333.22L125.06 333.72L125.21 334.21L125.35 334.71L125.49 335.21L125.61 335.7L125.73 336.2L125.84 336.7L125.94 337.19L126.04 337.69L126.12 338.19L126.19 338.68L126.25 339.18L126.3 339.68L126.35 340.17L126.38 340.67L126.42 341.17L126.45 341.66L126.47 342.16L126.49 342.66L126.51 343.15L126.53 343.65L126.55 344.15L126.57 344.65L126.59 345.14L126.6 345.64L126.62 346.14L126.63 346.63L126.64 347.13L126.65 347.63L126.66 348.12L126.67 348.62L126.68 349.12L126.68 349.61L126.69 350.11L126.69 350.61L126.69 351.1L126.7 351.6L126.7 351.6Z" fill="rgb(255,122,163)" fill-opacity="0.6" stroke="#000" stroke-width="0.75" stroke-linejoin="round"/>
<path d="M1.3 285.2H133.3" stroke="#0000ff" stroke-width="2.35" fill="none"/>
<path d="M132.9 206.3V359.3H1.3" stroke="#505050" stroke-width="1.05" stroke-linejoin="round" fill="none"/>
<path d="M133.4 230.9h1.6M133.4 256.5h1.6M133.4 282.2h1.6M133.4 307.8h1.6M133.4 333.4h1.6M133.4 358.6h1.6M9.5 359.8v1.6M48.5 359.8v1.6M87.5 359.8v1.6M126.6 359.8v1.6" stroke="#333" stroke-width="0.5" fill="none"/>
<g font-size="5.4" fill="#444">
<text transform="translate(136.5 233.15) rotate(0.05)">0.07</text>
<text transform="translate(136.5 258.75) rotate(0.05)">0.06</text>
<text transform="translate(136.5 284.45) rotate(0.05)">0.05</text>
<text transform="translate(136.5 310.05) rotate(0.05)">0.04</text>
<text transform="translate(136.5 335.65) rotate(0.05)">0.03</text>
<text transform="translate(136.5 360.85) rotate(0.05)">0.02</text>
<text transform="translate(9.5 366.3) rotate(0.05)" text-anchor="middle">60</text>
<text transform="translate(48.5 366.3) rotate(0.05)" text-anchor="middle">40</text>
<text transform="translate(87.5 366.3) rotate(0.05)" text-anchor="middle">20</text>
<text transform="translate(126.6 366.3) rotate(0.05)" text-anchor="middle">0</text>
</g>
<text transform="translate(67.1 374.05) rotate(0.05)" text-anchor="middle" font-size="6.8" fill="#000" stroke="#000" stroke-width="0.18">Density</text>
</g>
<g>
<path d="M183.95 285.2V239.24H184.57V240.01H184.7V240.11H184.82V220H185.45V237.43H186.07V240.48H186.2V234.15H186.82V242.19H187.45V243.89H187.57V240.46H187.7V230.89H188.32V235.54H188.7V246.88H188.82V247.65H188.95V240.29H189.07V217.1H189.7V236.57H189.95V236.84H190.45V244.76H190.95V249.16H191.32V252.92H191.7V247.47H192.07V241.65H192.2V231.35H192.82V245.27H192.95V247.94H193.45V233.06H194.07V246.68H194.2V235.85H194.7V235.83H195.32V236.08H195.7V232.86H196.32V246.4H196.45V242.91H196.57V234.7H197.2V248.14H197.7V242.6H197.82V240.35H197.95V239.54H198.57V241.97H199.07V245.4H199.32V246.41H199.45V243.51H199.82V243.17H199.95V233.8H200.57V246.83H200.95V235.8H201.57V238.06H201.95V244.5H202.07V229.75H202.7V234.16H202.82V232.96H203.45V241.85H203.95V245.97H204.07V239.92H204.57V232.84H205.2V245.49H205.32V245.42H205.7V245.11H206.07V244.14H206.2V241.74H206.45V230.12H207.07V244.11H207.45V227H208.07V246.64H208.2V238.21H208.32V237.84H208.82V234.12H209.45V242.67H209.95V241.77H210.2V241.07H210.57V230.24H211.2V248.13H211.45V248.09H211.95V247.59H212.07V240.23H212.7V234.04H213.32V246.76H213.57V245.25H214.2V247.13H214.32V246.49H214.57V243.89H215.07V242.32H215.57V236.84H216.2V247.93H216.57V247.76H216.7V238.9H216.95V214.6H217.57V241.95H217.7V230.85H218.32V233.31H218.45V237.38H218.95V230.82H219.57V239.67H220.2V240.45H220.7V240.76H221.07V238.14H221.7V240.63H221.82V239.52H222.45V242.71H222.57V243.52H222.7V232.41H223.32V231.08H223.45V229.06H224.07V237.07H224.32V239.72H224.57V247.43H224.7V235.11H225.32V233.93H225.7V230.12H226.32V247H226.57V248.66H227.07V237.06H227.7V243.04H227.82V243.73H228.07V247.81H228.32V242.69H228.57V240.93H229.2V244.53H229.45V226.91H230.07V239.93H230.45V245.1H230.7V242.9H231.32V238.75H231.95V246.04H232.07V212.6H232.7V232.93H233.2V238.78H233.7V243.85H233.82V250.96H233.95V239.06H234.57V246.62H235.07V243.51H235.7V247.49H235.95V240.33H236.2V240.28H236.82V249.55H237.32V248.51H237.45V244.54H238.07V246.67H238.2V247.05H238.45V240.36H238.82V218.8H239.45V236.78H240.07V243.28H240.2V236.57H240.32V232.62H240.95V245.27H241.2V241.97H241.32V238.32H241.95V242.34H242.2V247.52H242.32V231.9H242.95V239.03H243.2V242.55H243.45V241.51H244.07V246.4H244.32V239.82H244.45V238.93H245.07V245.93H245.2V233.46H245.82V242.58H245.95V250.23H246.2V245.93H246.32V241.67H246.95V243.29H247.07V232H247.7V241.32H247.82V233.51H248.07V233.38H248.7V237.7H248.95V245.11H249.07V243.43H249.7V236.97H249.95V228.68H250.2V225H250.82V244.21H250.95V246.58H251.2V249.12H251.45V250.92H251.7V249.19H251.82V246.25H251.95V245.01H252.32V237.36H252.95V244.08H253.32V246.93H253.45V254.47H253.57V252.47H253.7V249.21H253.95V246.04H254.57V246.59H254.7V251.42H254.82V248.31H255.07V246.45H255.7V257.18H255.82V247.56H255.95V246.86H256.07V246.25H256.2V244.54H256.57V238.19H256.95V228.25H257.57V241.14H257.82V239.79H258.45V246.68H258.57V231.82H259.2V244H259.32V245.49H259.82V246.29H260.07V244.79H260.2V239.06H260.32V233.87H260.95V238.77H261.32V237.14H261.45V231.29H262.07V233.56H262.7V243.08H262.95V243.98H263.2V248.44H263.32V243.58H263.57V240H264.2V240.38H264.32V243.94H264.45V249.42H264.82V247.02H265.07V237.67H265.7V240.53H265.82V227.93H266.45V247.84H266.57V242.2H266.95V232.55H267.57V241.46H267.7V239.21H268.07V231.8H268.7V239.46H269.07V239.75H269.45V235.08H270.07V239.38H270.2V228.34H270.82V245.04H270.95V250.56H271.2V246.32H271.57V237.21H272.2V244.65H272.45V243.38H272.82V232.12H273.45V236.82H273.57V240.86H274.07V249.25H274.32V230.64H274.95V240.56H275.32V241.06H275.7V245.88H276.07V249.25H276.2V243.93H276.32V236.91H276.45V235.6H276.95V232.6H277.57V246.07H277.95V254.39H278.07V238.04H278.7V241.6H279.32V248.69H279.45V246.23H279.57V245.75H279.95V238.79H280.57V242.86H280.7V245.05H281.07V245.69H281.57V246.38H281.7V246.25H282.32V234.56H282.95V244.69H283.07V243.34H283.7V242.28H283.82V234.66H284.45V236.97H284.57V231.93H285.07V229.8H285.2V228.89H285.32V214.6H285.95V249.42H286.07V247.16H286.32V244.1H286.82V239.68H287.45V246.81H287.57V244.06H288.2V234.75H288.82V247.44H288.95V244.21H289.07V235.38H289.7V247.12H289.82V239.1H290.2V235.43H290.82V249.59H290.95V246.68H291.57V253.32H291.82V232.29H292.45V234.43H292.7V240.96H293.32V247.27H293.82V236.21H294.45V244.06H294.7V242.99H295.2V239.25H295.32V225H295.95V241.44H296.07V247.32H296.2V242.65H296.82V247.94H297.2V243.45H297.32V237.78H297.95V238.36H298.07V235.15H298.7V236.18H299.32V240.25H299.95V246.24H300.07V254.27H300.32V251.29H300.45V247.07H300.95V243.79H301.57V248.74H301.7V244.75H301.82V242.66H302.45V224.4H303.07V255.48H303.2V228.4H303.82V240.62H304.45V249.75H304.57V326.14H303.95V320.18H303.82V320.25H303.7V323.6H303.32V333.5H302.7V332.09H302.07V333.64H301.82V334.77H301.2V327.38H300.95V326.66H300.7V323.7H300.57V330.82H300.32V332.25H299.82V333.03H299.2V326.04H299.07V342.8H298.45V334.61H297.95V333.24H297.57V329.66H297.2V325.5H297.07V326.54H296.7V336.15H296.07V330.76H295.82V335.58H295.7V339.99H295.07V326.85H294.82V330.81H294.7V341.88H294.07V329.33H293.82V330.33H293.2V325.4H292.82V325.29H292.32V332.69H291.82V334.25H291.2V322.6H290.95V332.8H290.32V331.46H289.95V328.82H289.45V329.1H288.82V320.22H288.7V324.28H288.2V330.46H287.7V341.5H287.07V337.41H286.7V317.6H286.57V342.4H285.95V341.65H285.32V337.62H284.82V321.77H284.7V323.72H284.45V327.24H284.2V339.09H283.57V334.02H283.45V332.41H282.82V330.4H282.7V335.28H282.07V322.94H281.95V329.94H281.7V335.34H281.07V323.89H280.95V325.7H280.32V322.64H280.2V314.63H280.07V329.19H279.7V341.86H279.07V326.5H278.95V328.5H278.32V322.09H278.2V325.7H277.7V325.84H277.45V327.48H276.82V331.77H276.2V330.45H275.95V336.65H275.32V332.45H274.95V314.84H274.82V325.82H274.45V331.66H274.32V333.1H273.95V334.5H273.32V320.35H272.95V331.58H272.82V333.14H272.2V328.2H272.07V325.78H271.95V327H271.82V337.31H271.45V341.4H270.82V322.03H270.57V320.51H270.32V334.32H269.7V319.13H269.45V338.91H268.82V326.22H268.32V323.89H268.2V322H268.07V327.81H267.95V331.36H267.57V333.84H266.95V324.11H266.7V331.2H266.07V329.14H265.95V340.3H265.32V335.37H264.82V338.28H264.2V325.65H263.95V327.42H263.82V331.65H263.32V335.3H262.7V332.74H262.57V331.18H262.2V333.49H261.57V325.84H261.45V324.08H261.32V326.82H261.2V328.02H261.07V331.76H260.45V329.79H260.32V320.56H260.2V328.6H259.57V325.49H259.32V334.68H258.7V328.13H258.45V327.34H258.32V325.86H258.2V333.33H257.95V333.71H257.32V320.91H257.2V319.97H257.07V339H256.45V331.12H256.32V325.62H255.95V331H255.32V329.64H255.07V332.79H254.57V333.59H253.95V330.51H253.32V328.62H252.82V322.47H252.7V332.91H252.07V338.11H251.45V332.79H251.32V331.63H251.07V321.86H250.82V323.64H250.7V329.84H250.57V331.31H250.45V332.35H249.82V330.43H249.57V322.42H249.45V322.79H249.32V334.48H248.82V334.99H248.2V328.13H248.07V330.83H247.45V322.54H247.2V335.45H246.95V338.03H246.32V323.04H246.07V320.04H245.95V321.75H245.82V335.63H245.2V324.29H244.7V315.94H244.57V323.38H244.45V341.5H243.82V319.38H243.57V325.86H243.45V332.82H243.2V333.53H243.07V335.71H242.45V327.42H242.2V325.2H241.95V322.35H241.7V323.6H241.57V323.67H240.95V323.55H240.82V349.8H240.2V332.02H240.07V325.53H239.95V328.4H239.32V333.79H238.7V324.72H238.32V324.31H237.95V329.64H237.32V333.54H236.7V331.2H236.32V324.79H236.2V333.1H235.57V326.42H235.45V326.38H235.32V322.93H234.95V323.59H234.45V324.93H234.2V333.13H233.57V330.51H233.2V330.15H232.57V327.22H232.45V328.44H231.82V320.86H231.57V318.81H231.32V320.02H230.95V325.12H230.57V328.78H229.95V332.33H229.32V327.22H228.95V326.75H228.57V319.43H228.2V334.9H227.57V330.29H227.07V328.41H226.7V322.19H226.57V320.8H226.45V323.58H225.82V321.57H225.7V324.01H225.07V320.34H224.95V326.11H224.7V327.25H224.57V330.86H223.95V325.37H223.7V320.29H223.57V321.79H223.32V328.43H223.07V333.56H222.45V330.49H222.2V328.97H222.07V333.7H221.45V323.13H221.32V319.89H221.2V325.75H220.95V327.38H220.32V320.27H219.82V327.11H219.57V331.77H218.95V325.86H218.57V334.36H217.95V333.79H217.7V324.09H217.57V324.85H217.2V338.07H216.95V342.8H216.32V324.99H215.95V330.81H215.57V333.9H214.95V323.72H214.57V332.5H214.07V336.1H213.45V327.84H213.32V328.52H213.07V332.49H212.7V339.89H212.07V331.03H211.95V326.87H211.57V336.29H210.95V337.7H210.32V333.76H210.2V325.26H209.95V335.2H209.32V339H208.7V338.55H208.2V321.43H208.07V326.02H207.95V326.99H207.45V340.22H206.82V328.9H206.7V314.88H206.57V318.3H206.45V321.61H206.32V334.23H205.95V337.1H205.32V326.53H205.07V330.3H204.45V322.14H204.32V316.08H204.07V317.17H203.57V317.35H203.45V317.85H203.32V323.14H203.2V323.66H203.07V326.93H202.82V341.82H202.2V319.8H202.07V322.67H201.82V323.12H201.7V326.38H201.57V326.81H201.07V336.28H200.45V332.1H200.2V322.83H200.07V331.24H199.45V339.53H198.82V336.5H198.7V323.45H198.32V322.82H198.2V338.48H197.57V332.42H196.95V324.97H196.82V328.41H196.32V339.38H196.07V339.88H195.45V338.03H194.82V330.28H194.45V329.86H194.07V332.62H193.45V324.59H193.32V326.09H193.2V333.49H192.95V336.24H192.32V327.28H191.95V323.09H191.7V336.64H191.07V319.46H190.95V339H190.32V333.04H190.2V352.3H189.57V337.22H189.32V328.88H188.95V334.13H188.32V323.03H188.2V315.79H188.07V343.5H187.45V332.94H187.32V323.29H186.95V325.05H186.82V331.2H186.2V328.84H185.82V327.11H185.45V325.74H185.32V326.86H185.07V328.34H184.45V326.86H183.95Z" fill="#c9008d"/>
<path d="M178.45 285.2H310.8" stroke="#0000ff" stroke-width="2.35" fill="none"/>
<path d="M178.45 252.8H310.8" stroke="#0000ff" stroke-width="2.35" stroke-dasharray="10.5 10.5" fill="none"/>
<path d="M178.45 319.1H310.8" stroke="#0000ff" stroke-width="2.35" stroke-dasharray="10.5 10.5" fill="none"/>
<path d="M178.45 206.3V359.3H310.8" stroke="#505050" stroke-width="1.05" stroke-linejoin="round" fill="none"/>
<path d="M177.95 229.4h-1.6M177.95 255.8h-1.6M177.95 282.2h-1.6M177.95 308.6h-1.6M177.95 335.2h-1.6M184.2 359.8v1.6M224.3 359.8v1.6M264.3 359.8v1.6M304.3 359.8v1.6" stroke="#333" stroke-width="0.5" fill="none"/>
<g font-size="5.4" fill="#444">
<text transform="translate(175.35 231.65) rotate(0.05)" text-anchor="end">0.07</text>
<text transform="translate(175.35 258.05) rotate(0.05)" text-anchor="end">0.06</text>
<text transform="translate(175.35 284.45) rotate(0.05)" text-anchor="end">0.05</text>
<text transform="translate(175.35 310.85) rotate(0.05)" text-anchor="end">0.04</text>
<text transform="translate(175.35 337.45) rotate(0.05)" text-anchor="end">0.03</text>
<text transform="translate(184.2 366.3) rotate(0.05)" text-anchor="middle">0</text>
<text transform="translate(224.3 366.3) rotate(0.05)" text-anchor="middle">10000</text>
<text transform="translate(264.3 366.3) rotate(0.05)" text-anchor="middle">20000</text>
<text transform="translate(304.3 366.3) rotate(0.05)" text-anchor="middle">30000</text>
</g>
<text transform="translate(244.62 374.8) rotate(0.05)" text-anchor="middle" font-size="6.8" fill="#000" stroke="#000" stroke-width="0.18">Iterations</text>
<text transform="translate(160.4 282.2) rotate(-89.95)" text-anchor="middle" font-size="6.8" fill="#000">μ</text>
</g>
<g>
<path d="M496.6 213H496.38V217.62H496.6ZM496.6 217.62H495.85V222.24H496.6ZM496.6 222.24H492.35V226.86H496.6ZM496.6 226.86H481.86V231.48H496.6ZM496.6 231.48H464.29V236.1H496.6ZM496.6 236.1H439.73V240.72H496.6ZM496.6 240.72H415.39V245.34H496.6ZM496.6 245.34H394.57V249.96H496.6ZM496.6 249.96H382.44V254.58H496.6ZM496.6 254.58H386.7V259.2H496.6ZM496.6 259.2H393.98V263.82H496.6ZM496.6 263.82H408.49V268.44H496.6ZM496.6 268.44H426.03V273.06H496.6ZM496.6 273.06H443.7V277.68H496.6ZM496.6 277.68H458.39V282.3H496.6ZM496.6 282.3H471.42V286.92H496.6ZM496.6 286.92H478.43V291.54H496.6ZM496.6 291.54H485.66V296.16H496.6ZM496.6 296.16H489V300.78H496.6ZM496.6 300.78H492.02V305.4H496.6ZM496.6 305.4H494.17V310.02H496.6ZM496.6 310.02H495.05V314.64H496.6ZM496.6 314.64H495.9V319.26H496.6ZM496.6 319.26H495.95V323.88H496.6ZM496.6 323.88H496.32V328.5H496.6ZM496.6 328.5H496.42V333.12H496.6ZM496.6 333.12H496.45V337.74H496.6ZM496.6 337.74H496.45V342.36H496.6ZM496.6 342.36H496.45V346.98H496.6ZM496.6 346.98H496.38V351.6H496.6Z" fill="#fff" stroke="#000" stroke-width="0.55"/>
<path d="M496.6 213L496.59 213L496.59 213.5L496.59 213.99L496.58 214.49L496.57 214.99L496.55 215.48L496.53 215.98L496.5 216.48L496.47 216.97L496.42 217.47L496.36 217.97L496.28 218.46L496.18 218.96L496.07 219.46L495.92 219.95L495.74 220.45L495.53 220.95L495.28 221.45L494.99 221.94L494.65 222.44L494.25 222.94L493.8 223.43L493.28 223.93L492.69 224.43L492.03 224.92L491.29 225.42L490.47 225.92L489.56 226.41L488.56 226.91L487.46 227.41L486.27 227.9L484.98 228.4L483.59 228.9L482.09 229.39L480.49 229.89L478.79 230.39L476.98 230.88L475.08 231.38L473.07 231.88L470.97 232.37L468.77 232.87L466.48 233.37L464.11 233.86L461.66 234.36L459.14 234.86L456.55 235.35L453.9 235.85L451.2 236.35L448.45 236.85L445.66 237.34L442.85 237.84L440.01 238.34L437.17 238.83L434.32 239.33L431.47 239.83L428.64 240.32L425.84 240.82L423.06 241.32L420.33 241.81L417.65 242.31L415.02 242.81L412.47 243.3L409.98 243.8L407.57 244.3L405.25 244.79L403.02 245.29L400.9 245.79L398.87 246.28L396.96 246.78L395.16 247.28L393.47 247.77L391.91 248.27L390.47 248.77L389.16 249.26L387.98 249.76L386.93 250.26L386 250.75L385.21 251.25L384.55 251.75L384.03 252.25L383.63 252.74L383.36 253.24L383.21 253.74L383.19 254.23L383.3 254.73L383.52 255.23L383.86 255.72L384.32 256.22L384.88 256.72L385.55 257.21L386.32 257.71L387.19 258.21L388.15 258.7L389.21 259.2L390.35 259.7L391.56 260.19L392.86 260.69L394.22 261.19L395.65 261.68L397.15 262.18L398.69 262.68L400.3 263.17L401.94 263.67L403.64 264.17L405.37 264.66L407.13 265.16L408.92 265.66L410.74 266.15L412.58 266.65L414.44 267.15L416.31 267.65L418.2 268.14L420.08 268.64L421.98 269.14L423.87 269.63L425.76 270.13L427.64 270.63L429.51 271.12L431.38 271.62L433.22 272.12L435.06 272.61L436.87 273.11L438.66 273.61L440.43 274.1L442.18 274.6L443.9 275.1L445.6 275.59L447.26 276.09L448.9 276.59L450.51 277.08L452.08 277.58L453.62 278.08L455.13 278.57L456.61 279.07L458.05 279.57L459.46 280.06L460.83 280.56L462.17 281.06L463.48 281.55L464.74 282.05L465.98 282.55L467.18 283.05L468.34 283.54L469.47 284.04L470.57 284.54L471.63 285.03L472.66 285.53L473.65 286.03L474.62 286.52L475.55 287.02L476.45 287.52L477.32 288.01L478.16 288.51L478.96 289.01L479.74 289.5L480.49 290L481.22 290.5L481.91 290.99L482.58 291.49L483.23 291.99L483.85 292.48L484.44 292.98L485.01 293.48L485.56 293.97L486.08 294.47L486.59 294.97L487.07 295.46L487.53 295.96L487.98 296.46L488.4 296.95L488.8 297.45L489.19 297.95L489.56 298.45L489.92 298.94L490.25 299.44L490.58 299.94L490.89 300.43L491.18 300.93L491.46 301.43L491.73 301.92L491.98 302.42L492.22 302.92L492.46 303.41L492.68 303.91L492.88 304.41L493.08 304.9L493.27 305.4L493.45 305.9L493.62 306.39L493.79 306.89L493.94 307.39L494.09 307.88L494.23 308.38L494.36 308.88L494.48 309.37L494.6 309.87L494.71 310.37L494.82 310.86L494.92 311.36L495.02 311.86L495.11 312.35L495.19 312.85L495.27 313.35L495.35 313.85L495.42 314.34L495.49 314.84L495.56 315.34L495.62 315.83L495.67 316.33L495.73 316.83L495.78 317.32L495.83 317.82L495.88 318.32L495.92 318.81L495.96 319.31L496 319.81L496.03 320.3L496.07 320.8L496.1 321.3L496.13 321.79L496.16 322.29L496.19 322.79L496.21 323.28L496.24 323.78L496.26 324.28L496.28 324.77L496.3 325.27L496.32 325.77L496.34 326.26L496.35 326.76L496.37 327.26L496.38 327.75L496.4 328.25L496.41 328.75L496.42 329.25L496.43 329.74L496.44 330.24L496.45 330.74L496.46 331.23L496.47 331.73L496.48 332.23L496.49 332.72L496.5 333.22L496.5 333.72L496.51 334.21L496.51 334.71L496.52 335.21L496.53 335.7L496.53 336.2L496.53 336.7L496.54 337.19L496.54 337.69L496.55 338.19L496.55 338.68L496.55 339.18L496.56 339.68L496.56 340.17L496.56 340.67L496.56 341.17L496.57 341.66L496.57 342.16L496.57 342.66L496.57 343.15L496.58 343.65L496.58 344.15L496.58 344.65L496.58 345.14L496.58 345.64L496.58 346.14L496.58 346.63L496.58 347.13L496.59 347.63L496.59 348.12L496.59 348.62L496.59 349.12L496.59 349.61L496.59 350.11L496.59 350.61L496.59 351.1L496.59 351.6L496.6 351.6Z" fill="rgb(255,122,163)" fill-opacity="0.6" stroke="#000" stroke-width="0.75" stroke-linejoin="round"/>
<path d="M378.8 258.5H502.9" stroke="#0000ff" stroke-width="2.35" fill="none"/>
<path d="M502.5 206.3V359.3H378.8" stroke="#505050" stroke-width="1.05" stroke-linejoin="round" fill="none"/>
<path d="M503 244.5h1.6M503 284.9h1.6M503 325.4h1.6M389.9 359.8v1.6M416.6 359.8v1.6M443.3 359.8v1.6M470 359.8v1.6M496.7 359.8v1.6" stroke="#333" stroke-width="0.5" fill="none"/>
<g font-size="5.4" fill="#444">
<text transform="translate(506.1 246.75) rotate(0.05)">0.999</text>
<text transform="translate(506.1 287.15) rotate(0.05)">0.998</text>
<text transform="translate(506.1 327.65) rotate(0.05)">0.997</text>
<text transform="translate(389.9 366.3) rotate(0.05)" text-anchor="middle">1000</text>
<text transform="translate(416.6 366.3) rotate(0.05)" text-anchor="middle">750</text>
<text transform="translate(443.3 366.3) rotate(0.05)" text-anchor="middle">500</text>
<text transform="translate(470 366.3) rotate(0.05)" text-anchor="middle">250</text>
<text transform="translate(496.7 366.3) rotate(0.05)" text-anchor="middle">0</text>
</g>
<text transform="translate(440.65 374.05) rotate(0.05)" text-anchor="middle" font-size="6.8" fill="#000" stroke="#000" stroke-width="0.18">Density</text>
</g>
<g>
<path d="M561.25 259V229.34H561.38V223.9H561.62V223.03H562.25V226.36H562.38V225.26H563V225.93H563.25V222.88H563.88V225.57H564.12V224H564.25V222.77H564.88V226.18H565V226.58H565.12V221.89H565.75V212.6H566.38V225.75H566.75V225.73H567.38V227.69H567.5V225.56H568V223.53H568.62V225.36H568.88V223.08H569.5V224.3H569.75V225.05H569.88V225.32H570.25V223.94H570.62V223.04H571.25V226.31H571.38V226.45H571.5V225.44H571.75V223.91H571.88V223.55H572.5V225.44H572.75V227.82H573V227.94H573.12V224.64H573.75V225.66H574.12V224.22H574.75V224.33H574.88V224.41H575.5V222.9H576.12V223.77H576.62V224.63H577V225.43H577.12V224.67H577.62V224.15H578.25V224.27H578.38V224.62H578.5V231.69H578.62V223.48H579.25V226.26H579.75V226.52H579.88V224.49H580.5V227.14H580.62V222.77H581.12V219.84H581.75V222.46H582.38V225.09H582.5V223.89H582.75V223.3H583.38V224.04H583.75V224.79H583.88V225.64H584V223.54H584.25V217.6H584.88V228.66H585V224.7H585.62V225.97H586.12V226.33H586.38V233.17H586.5V223.37H587.12V223.71H587.75V222.54H588.38V224.78H588.75V227.05H588.88V223.34H589.5V225.3H590V228.29H590.25V224.11H590.62V223.17H591.25V222.52H591.88V222.78H592.25V225.36H592.5V222.59H592.62V217H593.25V228.27H593.62V224.98H594.25V225.37H594.5V227.59H594.62V222.37H595.25V223.91H595.75V225.86H596.38V226.05H596.88V225.47H597.38V225.27H597.88V224.55H598.5V225.38H598.75V222.11H599.38V224.95H599.75V223.45H600.38V223.97H600.62V226.22H601V225.61H601.12V223.1H601.75V223.79H601.88V224.66H602.38V225.11H602.5V225.29H603.12V225.38H603.25V225.47H603.38V224.95H604V225.41H604.12V224.02H604.25V223.63H604.88V224.13H605.12V221.27H605.75V223.3H606.25V227.12H606.38V224.1H607V224.68H607.38V228.95H607.5V224.76H608.12V224.44H608.25V223.82H608.88V224.57H609V225.42H609.12V227.5H609.25V226.74H609.38V225.41H609.5V223.58H610.12V223.09H610.75V228.12H610.88V229.04H611V229.4H611.12V229.44H611.25V224.15H611.88V229.16H612V225.55H612.5V225.41H612.88V222.56H613.5V223.34H613.75V223.96H614.38V224.14H614.5V214.6H615.12V224.61H615.62V225.22H615.75V226.25H616.12V229.43H616.25V224.27H616.62V223.78H617.25V224.25H617.5V224.58H617.75V221.74H618.38V230.6H618.5V223.78H618.75V221.12H619.38V224.34H619.62V224.77H620V224.84H620.25V224.12H620.5V223.7H621.12V225.02H621.5V224.94H622.12V225.35H622.38V225.23H622.75V224.36H622.88V221.33H623.5V223.67H623.75V219.04H624.38V224.65H624.5V225.83H624.75V225.14H625.38V229.2H625.5V229.94H625.62V229.23H625.75V222.47H626.38V223.79H626.62V224.98H627.12V225.52H627.25V220.14H627.88V229.84H628.12V224.17H628.25V224.06H628.88V225.12H629V221.86H629.5V216.3H630.12V225.27H630.62V223.07H630.88V221.46H631.5V221.84H631.88V224.99H632V224.03H632.62V225.82H632.88V221.17H633.5V223.91H633.88V228.91H634.12V227.53H634.25V226.27H634.38V224.99H634.5V224.89H634.75V224.49H635.12V222.06H635.75V224.76H636.12V222.88H636.75V228.82H636.88V228.25H637V226.43H637.12V225.36H637.75V230.82H637.88V223.66H638.5V224.67H638.75V225.12H639V226.12H639.62V228.72H639.75V227.6H640.38V227.65H640.5V223.75H641.12V225.13H641.38V224.07H641.5V223.34H642.12V223.61H642.5V224.51H642.62V217H643.25V225.19H643.88V226.16H644V228.64H644.12V220.84H644.75V227.23H644.88V229.36H645V231.15H645.12V225.46H645.25V225.09H645.88V223.23H646.5V227.68H646.62V227.17H646.88V226.42H647.12V224.44H647.75V227.14H648.12V224.92H648.62V223.84H649.25V225.98H649.75V227.11H650V225.22H650.25V221.56H650.88V225.78H651V230.11H651.12V230.21H651.25V230.53H651.5V227.95H651.75V227.72H651.88V224.56H652.5V222.08H653.12V224.48H653.5V223.66H653.75V223.09H654V221.63H654.62V225.04H654.88V226.2H655.25V223.87H655.62V223.64H656.12V222.41H656.75V223.33H657V222.78H657.62V225.46H657.75V223.81H657.88V218H658.5V223.78H658.88V223.22H659.38V223.08H659.62V222.39H660.25V223.02H660.5V220.01H661.12V225.12H661.25V224.79H661.88V232.02H662.12V226.88H662.25V225.19H662.62V223.4H663.25V223.47H663.75V224H664.12V225.01H664.5V224.16H665.12V225.34H665.25V224.96H665.62V224.12H666.25V224.91H666.38V224.53H667V230.25H667.25V227.46H667.38V224.83H667.88V222.71H668.5V223.54H668.75V224.33H668.88V222.3H669.12V221.68H669.62V217H670.25V225.83H670.38V224.27H671V225.4H671.62V224.08H672.25V225.24H672.75V224.78H673.25V224.62H673.88V228.63H674V234.26H674.12V304.18H673.62V305.69H673.25V305.71H672.88V322.78H672.75V335.7H672.12V307.14H671.88V310.07H671.62V314.58H671.25V317.2H671.12V320.47H670.5V310.28H670.25V302.02H670.12V312.05H669.62V326.86H669.25V327.07H668.62V320.46H668.12V301.29H667.75V326.88H667.12V303.55H667V305.92H666.62V308.25H666.5V316.69H665.88V316.62H665.25V308.49H665.12V313.04H664.62V327.25H664V295.98H663.88V317.48H663.75V329.61H663.12V300.42H663V309.6H662.62V312.14H662.5V314.67H661.88V301.01H661.75V300.38H661.62V311.74H661V298.8H660.88V305.3H660.5V310.53H659.88V310.1H659.75V303.71H659.62V304.51H659V296.92H658.88V300.98H658.38V305.08H657.75V308.99H657.12V299.29H657V344H656.38V315.18H656V302.96H655.75V291.63H655.62V306.68H655.5V310.72H655V317.6H654.38V304.38H654.12V303.65H653.5V305.55H652.88V296.18H652.75V296.3H652.25V309.34H651.62V309.99H651V300.13H650.75V326.45H650.12V306.21H649.62V300.87H649.5V326.49H648.88V323.76H648.38V327.49H648V331.07H647.38V305.01H646.88V328.94H646.25V307.91H645.75V301.74H645.38V306.98H644.75V325.66H644.12V313.31H643.88V321.63H643.25V297.61H643.12V316.96H642.5V303.64H642.25V326.87H641.62V321.82H641.38V310.53H641V299.53H640.88V302.76H640.25V302.28H640.12V299H639.5V299.77H639.25V310.68H639V323.29H638.38V306.28H638.12V308.42H637.5V306.53H637.25V311.1H637V319.14H636.38V313.5H636.25V313.18H636.12V317.45H635.5V317.11H635.38V306.94H635V305.91H634.5V302.49H634.12V304.49H633.5V297.7H633.25V304.92H633.12V306.49H632.75V307.91H632.5V316.54H632.12V333.73H631.5V330.42H631V300.78H630.88V295.49H630.75V304.63H630.12V321.93H629.75V326.04H629.12V312.68H628.5V303.37H627.88V300.95H627.5V310.16H627V313.69H626.88V323.22H626.25V304.71H626V304.65H625.88V307.06H625.25V307.47H625V308.81H624.38V308.28H624.12V322.86H623.5V309.21H623V307.76H622.88V309.74H622.38V313.56H621.75V316.17H621.12V312.62H621V322.32H620.5V328.92H619.88V313.2H619.62V303.82H619.5V322.39H618.88V316.42H618.25V313.01H618.12V301.84H618V304.17H617.38V300.25H617.25V301.77H616.75V303H616.38V304.33H616.25V319.75H615.62V299.88H615.5V297.71H615.25V315.58H614.62V314.13H614.12V305.73H613.88V344.8H613.25V317.97H612.62V299.22H612.5V305.05H611.88V300.69H611.75V321.21H611.12V303.7H610.88V302.77H610.75V303.46H610.12V300.39H609.62V319.19H609V293.88H608.88V313.34H608.25V301.6H608.12V313.34H607.5V309.08H607.25V305.01H607.12V304.94H607V345.3H606.38V316.04H606.12V325.68H605.5V295.57H605.38V296.99H605.12V300.03H605V310.67H604.75V311.44H604.5V319.9H604.12V322.29H603.88V328H603.25V300.19H603V297.18H602.88V302.75H602.5V309.9H602.25V315.3H601.75V331.5H601.12V304.59H601V326.95H600.38V308.81H600.12V308.55H600V305.51H599.38V302.76H599.25V295.7H599.12V320.25H598.5V321.97H597.88V301.5H597.62V291.53H597.5V293.2H597.38V298.64H596.88V299.58H596.75V333.77H596.12V319.51H596V301.65H595.38V303.1H595.25V331.05H594.62V327.91H594.5V306.24H594.25V311.58H593.62V317.47H593.25V322.92H592.88V349H592.25V302.91H592.12V305.05H592V322.27H591.38V301.75H591V306.21H590.88V316.75H590.25V328.24H589.62V309.44H589.12V309.6H588.5V296.73H588.38V315.46H587.75V306.18H587.62V304.9H587.12V302.3H587V316.92H586.38V314H586.12V308.73H586V299.88H585.88V303.65H585.5V308.21H584.88V317.79H584.25V329.75H583.62V328H583.12V317.83H582.75V301.34H582.62V303.48H582.38V309.99H582.25V312.13H581.75V319.68H581.12V303.68H580.88V305.99H580.25V307.81H580.12V310.16H579.88V314.59H579.25V298.54H578.88V330.43H578.25V298.54H578V326.2H577.38V326.49H576.75V312.87H576.62V315.21H576.25V326.58H575.62V306.59H575.38V302.7H575.25V299.88H575V304.35H574.88V307.29H574.5V333.25H573.88V310.13H573.5V303.82H573.25V301.59H573V304.08H572.88V309.01H572.62V310.74H572.5V318.33H571.88V294.26H571.62V305.35H571V309.61H570.88V311.91H570.25V312.25H569.62V301.5H569.25V325.12H568.62V309.5H568V296.34H567.88V303.3H567.62V307.13H567V298.87H566.75V352.3H566.12V311.25H565.88V297.31H565.75V305.93H565.62V318.68H565.12V322.41H564.5V315.36H564.25V304.54H563.75V304.51H563.62V295H563.5V301.95H562.88V335.7H562.25V332.98H561.62V301.42H561.38V298.34H561.25Z" fill="#c9008d"/>
<path d="M556.05 259H680" stroke="#0000ff" stroke-width="2.35" fill="none"/>
<path d="M556.05 229.4H672.5" stroke="#0000ff" stroke-width="2.35" stroke-dasharray="10.5 10.5" fill="none"/>
<path d="M556.05 291.2H672.5" stroke="#0000ff" stroke-width="2.35" stroke-dasharray="10.5 10.5" fill="none"/>
<path d="M556.05 206.3V359.3H680" stroke="#505050" stroke-width="1.05" stroke-linejoin="round" fill="none"/>
<path d="M555.55 244.5h-1.6M555.55 286.2h-1.6M555.55 327.7h-1.6M561.5 359.8v1.6M598.9 359.8v1.6M636.4 359.8v1.6M673.8 359.8v1.6" stroke="#333" stroke-width="0.5" fill="none"/>
<g font-size="5.4" fill="#444">
<text transform="translate(552.95 246.75) rotate(0.05)" text-anchor="end">0.999</text>
<text transform="translate(552.95 288.45) rotate(0.05)" text-anchor="end">0.998</text>
<text transform="translate(552.95 329.95) rotate(0.05)" text-anchor="end">0.997</text>
<text transform="translate(561.5 366.3) rotate(0.05)" text-anchor="middle">0</text>
<text transform="translate(598.9 366.3) rotate(0.05)" text-anchor="middle">10000</text>
<text transform="translate(636.4 366.3) rotate(0.05)" text-anchor="middle">20000</text>
<text transform="translate(673.8 366.3) rotate(0.05)" text-anchor="middle">30000</text>
</g>
<text transform="translate(618.02 374.8) rotate(0.05)" text-anchor="middle" font-size="6.8" fill="#000" stroke="#000" stroke-width="0.18">Iterations</text>
<text transform="translate(534.7 283) rotate(-89.95)" text-anchor="middle" font-size="6.8" fill="#000">R(t)</text>
</g>
<g>
<path d="M313.3 418H313.06V422.64H313.3ZM313.3 422.64H313.15V427.29H313.3ZM313.3 427.29H313.15V431.93H313.3ZM313.3 431.93H313.15V436.57H313.3ZM313.3 436.57H313.01V441.22H313.3ZM313.3 441.22H312.73V445.86H313.3ZM313.3 445.86H312.54V450.5H313.3ZM313.3 450.5H311.99V455.15H313.3ZM313.3 455.15H310.68V459.79H313.3ZM313.3 459.79H309.43V464.43H313.3ZM313.3 464.43H307.09V469.08H313.3ZM313.3 469.08H302.73V473.72H313.3ZM313.3 473.72H298V478.36H313.3ZM313.3 478.36H288.49V483.01H313.3ZM313.3 483.01H278.35V487.65H313.3ZM313.3 487.65H266.49V492.29H313.3ZM313.3 492.29H248.77V496.94H313.3ZM313.3 496.94H235.51V501.58H313.3ZM313.3 501.58H213.11V506.22H313.3ZM313.3 506.22H199.99V510.87H313.3ZM313.3 510.87H196.93V515.51H313.3ZM313.3 515.51H201.72V520.15H313.3ZM313.3 520.15H216.88V524.8H313.3ZM313.3 524.8H240.62V529.44H313.3ZM313.3 529.44H269.27V534.08H313.3ZM313.3 534.08H291.27V538.73H313.3ZM313.3 538.73H304.95V543.37H313.3ZM313.3 543.37H311.31V548.01H313.3ZM313.3 548.01H312.98V552.66H313.3ZM313.3 552.66H313.06V557.3H313.3Z" fill="#fff" stroke="#000" stroke-width="0.55"/>
<path d="M313.3 418L313.29 418L313.29 418.5L313.28 419L313.28 419.5L313.28 420L313.28 420.5L313.28 421L313.28 421.49L313.28 421.99L313.27 422.49L313.27 422.99L313.27 423.49L313.27 423.99L313.27 424.49L313.26 424.99L313.26 425.49L313.26 425.99L313.26 426.49L313.25 426.99L313.25 427.49L313.25 427.99L313.24 428.48L313.24 428.98L313.23 429.48L313.23 429.98L313.22 430.48L313.22 430.98L313.21 431.48L313.21 431.98L313.2 432.48L313.19 432.98L313.19 433.48L313.18 433.98L313.17 434.48L313.16 434.98L313.15 435.47L313.14 435.97L313.13 436.47L313.12 436.97L313.11 437.47L313.09 437.97L313.08 438.47L313.07 438.97L313.05 439.47L313.03 439.97L313.02 440.47L313 440.97L312.98 441.47L312.96 441.97L312.93 442.46L312.91 442.96L312.89 443.46L312.86 443.96L312.83 444.46L312.8 444.96L312.77 445.46L312.73 445.96L312.7 446.46L312.66 446.96L312.62 447.46L312.58 447.96L312.53 448.46L312.48 448.96L312.43 449.45L312.38 449.95L312.32 450.45L312.26 450.95L312.2 451.45L312.13 451.95L312.06 452.45L311.98 452.95L311.9 453.45L311.82 453.95L311.73 454.45L311.63 454.95L311.53 455.45L311.43 455.95L311.32 456.44L311.2 456.94L311.08 457.44L310.95 457.94L310.81 458.44L310.67 458.94L310.52 459.44L310.36 459.94L310.19 460.44L310.01 460.94L309.83 461.44L309.63 461.94L309.43 462.44L309.21 462.94L308.99 463.43L308.75 463.93L308.5 464.43L308.24 464.93L307.96 465.43L307.67 465.93L307.37 466.43L307.06 466.93L306.72 467.43L306.38 467.93L306.01 468.43L305.63 468.93L305.24 469.43L304.82 469.93L304.39 470.42L303.94 470.92L303.46 471.42L302.97 471.92L302.46 472.42L301.92 472.92L301.36 473.42L300.78 473.92L300.17 474.42L299.54 474.92L298.89 475.42L298.2 475.92L297.49 476.42L296.76 476.92L295.99 477.41L295.2 477.91L294.38 478.41L293.53 478.91L292.64 479.41L291.73 479.91L290.78 480.41L289.8 480.91L288.79 481.41L287.75 481.91L286.67 482.41L285.56 482.91L284.41 483.41L283.23 483.91L282.01 484.4L280.76 484.9L279.48 485.4L278.15 485.9L276.8 486.4L275.4 486.9L273.98 487.4L272.51 487.9L271.02 488.4L269.49 488.9L267.92 489.4L266.33 489.9L264.7 490.4L263.04 490.9L261.35 491.39L259.63 491.89L257.88 492.39L256.11 492.89L254.31 493.39L252.49 493.89L250.65 494.39L248.79 494.89L246.91 495.39L245.02 495.89L243.11 496.39L241.19 496.89L239.27 497.39L237.34 497.89L235.41 498.38L233.48 498.88L231.56 499.38L229.65 499.88L227.74 500.38L225.86 500.88L223.99 501.38L222.15 501.88L220.33 502.38L218.55 502.88L216.8 503.38L215.09 503.88L213.43 504.38L211.82 504.88L210.26 505.37L208.77 505.87L207.33 506.37L205.97 506.87L204.68 507.37L203.46 507.87L202.33 508.37L201.29 508.87L200.34 509.37L199.48 509.87L198.73 510.37L198.08 510.87L197.54 511.37L197.11 511.87L196.79 512.36L196.6 512.86L196.53 513.36L196.58 513.86L196.75 514.36L197.06 514.86L197.5 515.36L198.06 515.86L198.76 516.36L199.6 516.86L200.56 517.36L201.66 517.86L202.89 518.36L204.25 518.86L205.73 519.35L207.34 519.85L209.07 520.35L210.92 520.85L212.89 521.35L214.96 521.85L217.14 522.35L219.42 522.85L221.8 523.35L224.26 523.85L226.8 524.35L229.41 524.85L232.09 525.35L234.83 525.85L237.62 526.34L240.44 526.84L243.31 527.34L246.19 527.84L249.09 528.34L252 528.84L254.9 529.34L257.79 529.84L260.67 530.34L263.51 530.84L266.32 531.34L269.08 531.84L271.79 532.34L274.44 532.84L277.02 533.33L279.52 533.83L281.95 534.33L284.3 534.83L286.55 535.33L288.71 535.83L290.78 536.33L292.74 536.83L294.6 537.33L296.36 537.83L298.01 538.33L299.56 538.83L301.01 539.33L302.35 539.83L303.59 540.32L304.73 540.82L305.78 541.32L306.73 541.82L307.59 542.32L308.37 542.82L309.07 543.32L309.69 543.82L310.24 544.32L310.73 544.82L311.15 545.32L311.52 545.82L311.84 546.32L312.11 546.82L312.34 547.31L312.53 547.81L312.69 548.31L312.82 548.81L312.93 549.31L313.02 549.81L313.09 550.31L313.14 550.81L313.18 551.31L313.22 551.81L313.24 552.31L313.26 552.81L313.27 553.31L313.28 553.81L313.29 554.3L313.29 554.8L313.3 555.3L313.3 555.8L313.3 556.3L313.3 556.8L313.3 557.3L313.3 557.3Z" fill="rgb(255,122,163)" fill-opacity="0.6" stroke="#000" stroke-width="0.75" stroke-linejoin="round"/>
<path d="M189.5 508.8H319.8" stroke="#0000ff" stroke-width="2.35" fill="none"/>
<path d="M319.4 411.3V564.5H189.5" stroke="#505050" stroke-width="1.05" stroke-linejoin="round" fill="none"/>
<path d="M319.9 415.6h1.6M319.9 452.7h1.6M319.9 489.9h1.6M319.9 527h1.6M319.9 564h1.6M191.9 565v1.6M216.2 565v1.6M240.5 565v1.6M264.8 565v1.6M289.1 565v1.6M313.4 565v1.6" stroke="#333" stroke-width="0.5" fill="none"/>
<g font-size="5.4" fill="#444">
<text transform="translate(323 417.85) rotate(0.05)">0.08</text>
<text transform="translate(323 454.95) rotate(0.05)">0.06</text>
<text transform="translate(323 492.15) rotate(0.05)">0.04</text>
<text transform="translate(323 529.25) rotate(0.05)">0.02</text>
<text transform="translate(323 566.25) rotate(0.05)">0.00</text>
<text transform="translate(191.9 571.5) rotate(0.05)" text-anchor="middle">50</text>
<text transform="translate(216.2 571.5) rotate(0.05)" text-anchor="middle">40</text>
<text transform="translate(240.5 571.5) rotate(0.05)" text-anchor="middle">30</text>
<text transform="translate(264.8 571.5) rotate(0.05)" text-anchor="middle">20</text>
<text transform="translate(289.1 571.5) rotate(0.05)" text-anchor="middle">10</text>
<text transform="translate(313.4 571.5) rotate(0.05)" text-anchor="middle">0</text>
</g>
<text transform="translate(254.45 579.25) rotate(0.05)" text-anchor="middle" font-size="6.8" fill="#000" stroke="#000" stroke-width="0.18">Density</text>
</g>
<g>
<path d="M372.15 511.1V479.88H372.27V451.67H372.9V458.75H373.15V433.9H373.77V468.27H374.15V464.14H374.4V462.65H374.77V445.99H375.4V464.72H375.9V460.21H376.52V462.26H376.65V463.85H376.9V452.69H377.15V418H377.77V455.38H378.4V465.99H378.77V477.78H378.9V471.76H379.02V470.9H379.15V443.13H379.77V455.79H380.15V443.19H380.77V447.09H380.9V440.82H381.52V448.4H381.65V452.68H381.77V459.29H382.02V449.62H382.65V462.83H382.9V457.19H383.52V468.62H383.65V464.72H384.27V452.14H384.9V467.37H385.02V464.48H385.65V467.21H385.9V453.99H386.52V449.06H387.15V467.49H387.77V465.07H387.9V446.94H388.52V464.77H388.65V463.69H388.9V459.05H389.52V471.64H389.65V459.95H390.27V464.04H390.65V461.73H391.27V466.78H391.4V461.59H392.02V447.34H392.65V455.82H392.77V466.36H392.9V471.67H393.15V477.16H393.27V477.15H393.52V448.78H394.02V448.68H394.15V445.7H394.77V452.39H395.02V440H395.65V457.09H396.27V462.2H396.77V463.48H397.02V469.11H397.27V473.59H397.52V460.33H398.15V462.39H398.27V463.13H398.9V465.3H399.15V448.52H399.77V461.82H400.02V465.07H400.27V463.68H400.65V456.38H401.27V459.52H401.77V454.51H402.27V450.05H402.9V452H403.4V457.03H404.02V459.99H404.4V465.57H404.52V467.01H404.77V460.2H405.02V420.6H405.65V468.02H405.77V467.59H406.4V477.29H406.52V453.09H407.15V462.32H407.27V464.19H407.4V462.54H408.02V456.35H408.65V456.56H409.02V446.48H409.65V457.98H410.02V444.74H410.65V450.81H411.27V462.76H411.65V457.71H412.02V438.88H412.65V440.4H412.9V451.92H413.15V465.64H413.27V463.57H413.9V465.97H414.02V468.31H414.15V458.62H414.27V438.9H414.9V442.1H415.27V461.07H415.9V471.4H416.02V447.46H416.65V459.18H417.02V463.76H417.4V467.67H417.52V464.6H417.77V463.52H418.15V457.9H418.77V462.55H419.02V461.09H419.65V423.8H420.27V449.5H420.4V458.66H420.52V478.64H420.65V462.33H421.27V465.65H421.65V468.73H422.4V471.97H422.65V456.84H423.02V454.18H423.15V450.41H423.77V454.82H424.4V453.87H424.52V439.99H425.15V473.98H425.4V465.59H425.65V464.36H425.9V454.84H426.4V425H427.02V460.16H427.27V460.81H427.4V460.89H428.02V461.16H428.27V467.73H428.4V467.47H428.65V454.3H429.15V442.45H429.77V450.33H429.9V460.61H430.52V465.18H431.02V472.64H431.15V454.46H431.77V465.87H432.02V456.38H432.65V477.64H432.77V477.7H432.9V474.65H433.4V467.88H433.77V464.97H433.9V457.5H434.4V455.39H434.52V447.67H435.15V452.57H435.27V464.99H435.65V462.33H435.9V457.15H436.27V453.22H436.9V479.98H437.02V475.73H437.15V473.74H437.27V448.76H437.65V441.4H438.27V450.01H438.65V448.75H439.27V454.53H439.4V465.19H439.52V458.3H440.02V454.85H440.65V466.47H440.9V475.94H441.02V462.32H441.65V469.59H441.9V456.62H442.02V451.63H442.65V458.84H442.77V464.1H443.4V464.9H443.65V452.44H444.27V465.15H444.4V452.4H444.9V447.4H445.15V441.4H445.77V470.62H446.15V471.83H446.27V459.33H446.4V441.91H447.02V449.7H447.15V442.39H447.77V464.97H448.02V456.81H448.15V442.59H448.77V472.63H448.9V462.26H449.52V466.39H449.77V460.37H449.9V454.64H450.02V451.68H450.15V448.29H450.77V470.19H451.02V451.28H451.65V468.51H451.77V471.15H451.9V468.69H452.4V467.44H452.52V462.2H453.15V455.16H453.77V459.63H453.9V448.11H454.52V466.61H454.77V478.09H454.9V475H455.02V472.63H455.4V468.31H455.77V441.41H456.4V452.21H456.77V444.11H457.4V441.84H458.02V469.45H458.4V474.72H458.52V469.93H458.77V462.22H459.4V469.6H459.65V470.36H459.77V474.73H459.9V466.28H460.02V459.44H460.52V450.82H461.15V454.77H461.27V459H461.9V464.25H462.15V472.94H462.4V471.77H462.52V470.07H462.65V465.17H462.77V442H463.4V474.82H463.52V470.42H463.65V469.21H463.77V462.34H463.9V453.63H464.52V461.51H464.9V442.28H465.52V460.47H466.02V462.39H466.27V469.6H466.65V464.27H466.77V461.94H467.15V461.81H467.27V455.12H467.77V452.77H468.02V448.64H468.65V449.07H468.9V461.64H469.27V439.11H469.9V456.79H470.15V460.72H470.4V461.73H470.65V456.39H471.27V453.62H471.4V446.06H471.9V441.91H472.4V424.6H473.02V466.96H473.27V466.27H473.4V451.78H474.02V453.02H474.15V469.6H474.27V458.41H474.77V457.56H474.9V444.47H475.52V469.34H475.77V474.16H476.02V460.8H476.65V461.6H476.77V442.5H477.4V468.59H477.65V468.96H478.15V471.53H478.4V443.61H479.02V470.06H479.15V441.4H479.77V461.4H479.9V468.87H480.15V469.26H480.27V467.33H480.65V464.78H481.27V448.07H481.9V458.83H482.27V452.53H482.9V460.92H483.27V466.93H483.65V470.38H483.77V459.26H484.4V464.83H484.52V462.88H485.15V464.81H485.27V461.18H485.9V471.58H486.02V467.06H486.65V469.38H486.77V473.75H487.02V470.43H487.15V454.64H487.77V469.5H488.15V469.76H488.52V458H488.65V434.6H489.27V457.96H489.4V470.09H489.77V465.68H490.27V450.42H490.9V476.36H491.02V491.27H491.15V537.75H490.9V541.55H490.4V543.11H490.15V544.58H489.65V545.7H489.52V546.53H489.27V546.58H488.77V548.79H488.15V546.5H487.65V544.4H487.4V545.24H487.02V547.56H486.4V545.65H485.9V545.27H485.77V544.48H485.65V544.39H485.52V552.8H484.9V545.83H484.4V545.56H484.15V546.26H483.52V545.38H482.9V544.69H482.77V545.76H482.65V546.59H482.4V548.77H481.77V544.58H481.65V541.56H481.4V545.24H480.77V545.06H480.4V541.8H480.15V543.18H479.52V542.93H479.02V542.59H478.9V545.34H478.27V545.04H478.15V545.14H477.65V547.86H477.02V545.13H476.9V543.84H476.77V540.53H476.65V547.93H476.02V546.63H475.4V543.45H474.9V546.11H474.52V546.77H473.9V544.51H473.52V543.6H473.4V543.85H473.15V545.43H472.52V541.28H472.27V544.37H471.77V544.72H471.65V547.36H471.02V546.01H470.9V546.79H470.27V543.27H470.02V541.97H469.9V540.98H469.77V540.67H469.65V546.42H469.02V546.09H468.9V545.44H468.77V544.9H468.4V544.1H468.15V543.6H468.02V541.02H467.77V542.3H467.65V545.68H467.4V547.92H466.77V540.51H466.52V543.98H465.9V544.49H465.27V542.26H465.15V542.73H464.52V543.46H464.02V547.48H463.4V545.85H462.9V543.01H462.77V544.41H462.15V548.63H461.52V546.7H461.02V546.31H460.9V547.08H460.27V545.17H460.15V544.71H460.02V545.68H459.65V546.91H459.02V542.3H458.9V544.21H458.65V544.36H458.27V545.58H457.65V542.9H457.27V542.88H457.15V545.6H457.02V545.7H456.4V545.63H456.15V544.92H456.02V544.5H455.65V544.67H455.4V544.91H455.27V547.69H454.9V548.6H454.27V546.69H454.15V545.39H454.02V545.8H453.4V540.57H453.27V540.14H453.15V545.06H452.77V545.68H452.15V544.41H451.77V541.62H451.52V546.77H450.9V546.02H450.27V543.86H450.02V545.16H449.4V544.6H448.9V544.58H448.65V546.75H448.02V546.01H447.9V542.27H447.65V543.62H447.4V547.24H446.9V547.26H446.65V547.44H446.4V548.32H445.77V546.22H445.15V543.37H444.65V552.3H444.02V545.71H443.77V543.82H443.4V544.49H442.77V544.05H442.4V546.81H441.77V546.08H441.15V544.72H441.02V545.02H440.52V545.93H440.02V546.9H439.4V544.59H439.02V544.72H438.4V546.87H437.77V545.53H437.52V543.87H437.4V540.7H437.27V541.09H436.65V538.62H436.4V545.86H435.77V543.76H435.52V545.33H434.9V543.11H434.65V541.55H434.4V547.02H433.77V544.74H433.52V546.97H432.9V544.24H432.77V543.16H432.4V543.39H431.77V542.2H431.65V544.83H431.02V540.6H430.9V545.1H430.27V544.77H430.15V545.67H429.52V545.06H429.4V541.13H429.27V545.35H428.77V555.8H428.15V546.23H427.9V549.47H427.27V545.72H426.9V546.07H426.27V544.47H426.02V546.88H425.4V545.65H424.9V544.97H424.77V546.08H424.15V545.81H423.52V543.45H423.4V538.3H423.27V541.03H423.15V544.44H422.52V544.37H422.4V544.63H422.27V547.06H421.65V545.95H421.52V543.5H421.27V545.12H420.77V548.05H420.15V543.7H419.77V543.07H419.65V545.64H419.02V544.63H418.77V541.14H418.52V544.11H417.9V539.34H417.65V540.69H417.4V544.37H417.15V545.84H416.52V543.57H416.02V541.68H415.9V542.08H415.77V543.78H415.4V545.18H414.77V545.01H414.65V544.44H414.52V543.93H414.15V543.1H413.77V546.49H413.15V544.62H412.9V543.14H412.65V542.51H412.52V543.26H412.02V545.31H411.65V547.4H411.02V542.42H410.77V544.66H410.27V544.83H409.65V543.19H409.4V546.85H408.77V545.84H408.15V552.8H407.52V546.4H407.02V543.12H406.9V543.52H406.77V547.24H406.15V544.71H405.9V545.8H405.27V542.06H405.15V540.65H405.02V545.36H404.65V545.7H404.15V547.31H403.52V542.64H403.15V543.02H402.77V545.37H402.15V543.62H402.02V538.81H401.9V544.68H401.27V542.38H401.15V544.95H400.52V544.39H400.15V544.62H399.52V544.53H399.27V544.13H398.9V547.56H398.27V543.95H398.15V546.42H397.52V542.14H397.4V541.01H397.02V543.77H396.4V542.4H396.15V545.43H396.02V546.37H395.4V543.73H395.02V545.67H394.4V541.95H394.27V542.95H393.9V544.49H393.27V545.13H392.9V545.23H392.27V546.14H392.02V546.65H391.4V542.19H391.15V544.42H391.02V545.9H390.4V544.5H390.27V542.08H390.15V546.26H389.52V548.12H388.9V544.41H388.77V541.58H388.4V544.16H387.77V539.45H387.65V540.24H387.52V547.75H386.9V541.59H386.65V545.54H386.02V543.75H385.52V544.95H385.4V545.33H384.77V544.48H384.65V544.62H384.02V543.24H383.65V543.34H383.27V544.31H382.9V546.21H382.27V540.96H382.15V539.14H381.9V542.36H381.65V544.11H381.4V545.41H380.77V544.78H380.52V543.19H380.27V546.06H380.15V547.31H379.52V545.73H379.02V544.81H378.77V544.67H378.52V544.66H378.27V557.5H377.65V545.1H377.15V544.88H376.9V546.6H376.27V544.82H376.02V542.5H375.9V542.78H375.15V542.74H374.9V544.19H374.4V547.21H373.9V551.5H373.27V547.04H372.9V544.45H372.52V541.08H372.15Z" fill="#c9008d"/>
<path d="M366.55 511.1H497" stroke="#0000ff" stroke-width="2.35" fill="none"/>
<path d="M366.55 478.9H497" stroke="#0000ff" stroke-width="2.35" stroke-dasharray="10.5 10.5" fill="none"/>
<path d="M366.55 541.2H497" stroke="#0000ff" stroke-width="2.35" stroke-dasharray="10.5 10.5" fill="none"/>
<path d="M366.55 411.3V564.5H497" stroke="#505050" stroke-width="1.05" stroke-linejoin="round" fill="none"/>
<path d="M366.05 414.3h-1.6M366.05 452.7h-1.6M366.05 491.2h-1.6M366.05 529.7h-1.6M372.4 565v1.6M411.9 565v1.6M451.3 565v1.6M490.8 565v1.6" stroke="#333" stroke-width="0.5" fill="none"/>
<g font-size="5.4" fill="#444">
<text transform="translate(363.45 416.55) rotate(0.05)" text-anchor="end">0.08</text>
<text transform="translate(363.45 454.95) rotate(0.05)" text-anchor="end">0.06</text>
<text transform="translate(363.45 493.45) rotate(0.05)" text-anchor="end">0.04</text>
<text transform="translate(363.45 531.95) rotate(0.05)" text-anchor="end">0.02</text>
<text transform="translate(372.4 571.5) rotate(0.05)" text-anchor="middle">0</text>
<text transform="translate(411.9 571.5) rotate(0.05)" text-anchor="middle">10000</text>
<text transform="translate(451.3 571.5) rotate(0.05)" text-anchor="middle">20000</text>
<text transform="translate(490.8 571.5) rotate(0.05)" text-anchor="middle">30000</text>
</g>
<text transform="translate(431.77 580) rotate(0.05)" text-anchor="middle" font-size="6.8" fill="#000" stroke="#000" stroke-width="0.18">Iterations</text>
<text transform="translate(348.2 488.1) rotate(-89.95)" text-anchor="middle" font-size="6.8" fill="#000">h(t)</text>
</g>
<text transform="translate(153.3 197) rotate(0.05)" text-anchor="middle" font-family='"Liberation Serif", serif' font-size="19" fill="#1a1a1a">(a)</text>
<text transform="translate(525.7 197) rotate(0.05)" text-anchor="middle" font-family='"Liberation Serif", serif' font-size="19" fill="#1a1a1a">(b)</text>
<text transform="translate(153 401.6) rotate(0.05)" text-anchor="middle" font-family='"Liberation Serif", serif' font-size="19" fill="#1a1a1a">(c)</text>
<text transform="translate(525.7 401.7) rotate(0.05)" text-anchor="middle" font-family='"Liberation Serif", serif' font-size="19" fill="#1a1a1a">(d)</text>
<text transform="translate(339.5 606.9) rotate(0.05)" text-anchor="middle" font-family='"Liberation Serif", serif' font-size="19" fill="#1a1a1a">(e)</text>
</svg>
</body></html>
